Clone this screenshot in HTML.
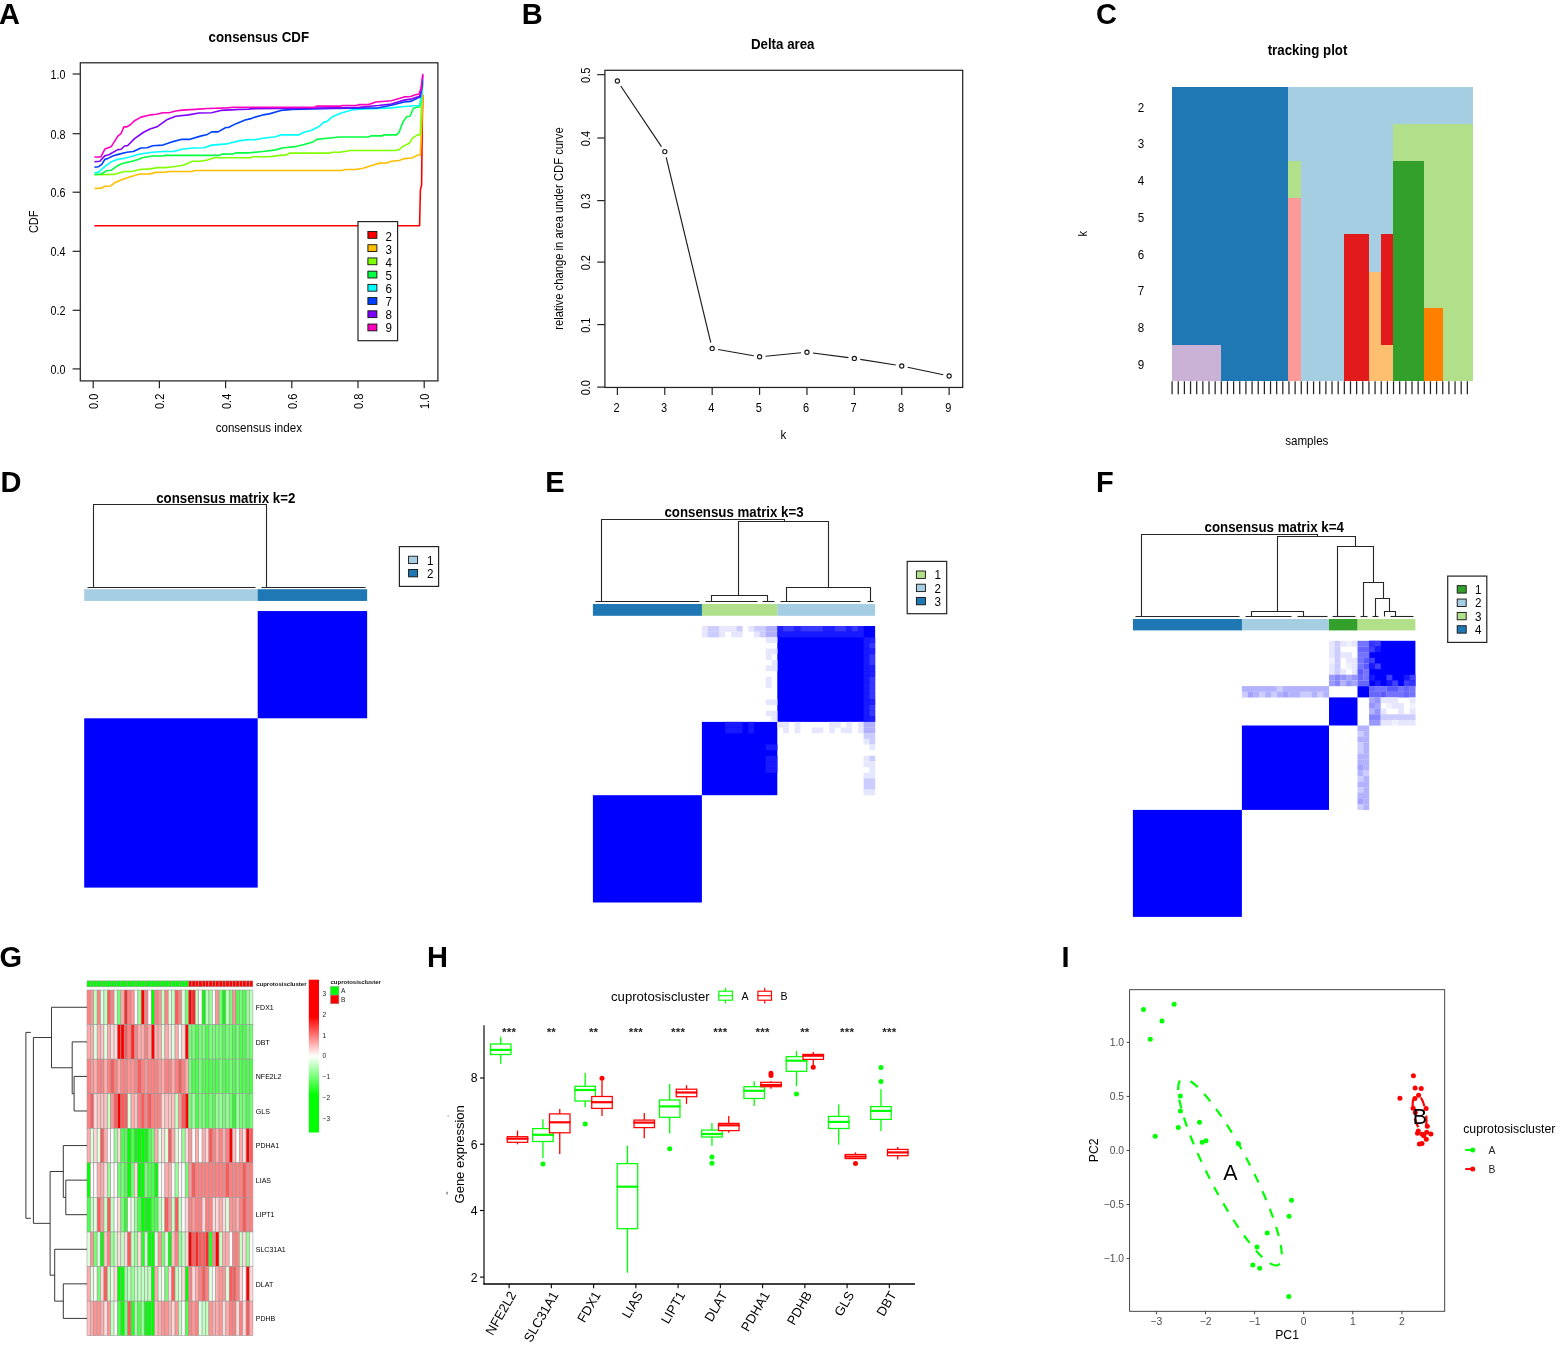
<!DOCTYPE html>
<html lang="en">
<head>
<meta charset="utf-8">
<title>Consensus clustering of cuproptosis genes</title>
<style>
html,body{margin:0;padding:0;background:#fff}
body{width:1558px;height:1346px;overflow:hidden}
svg{display:block;font-family:"Liberation Sans", sans-serif}
text{white-space:pre}
</style>
</head>
<body>
<svg width="1558" height="1346" viewBox="0 0 1558 1346">
<rect width="1558" height="1346" fill="#ffffff"/>
<g id="panel-A">
<text transform="translate(-1 24.4) scale(1 1.04)" font-size="29" font-weight="bold" fill="#000">A</text>
<text transform="translate(258.8 41.6) scale(1 1.08)" font-size="13.3" text-anchor="middle" font-weight="bold" fill="#000">consensus CDF</text>
<polyline points="94.4,225.7 419.6,225.7 420.4,190 421.6,185 422.3,120 422.9,95" fill="none" stroke="#FF0000" stroke-width="1.6" stroke-linejoin="round"/>
<polyline points="94.45,188.43 101.13,188.17 104.99,186.25 110.77,185.99 115.27,182.39 121.7,179.82 129.41,176.99 139.69,174.04 149.97,174.04 155.12,172.37 165.4,172.11 169.25,171.47 192.39,171.47 194.96,170.57 248.95,170.57 250,170.57 342.54,170.57 345.12,169.54 355.4,169.54 363.11,168.25 370.82,165.68 379.82,163.11 387.53,162.85 391.39,161.18 399.1,160.54 404.24,158.61 411.95,157.97 417.1,155.4 420.31,154.76 421.59,127.12 422.88,94.99" fill="none" stroke="#FFBF00" stroke-width="1.6" stroke-linejoin="round"/>
<polyline points="94.45,174.68 113.98,174.42 124.27,171.47 131.98,171.47 139.69,169.54 149.97,168.89 157.69,167.61 165.4,167.61 173.11,166.71 183.39,165.3 192.39,161.18 200.1,161.18 206.53,160.28 214.24,157.71 248.95,157.71 250,157.97 252.57,156.68 269.28,156.68 279.56,155.4 285.99,155.14 289.85,153.08 329.69,153.08 332.26,152.19 339.97,152.19 350.26,150.51 395.24,150.51 399.1,149.61 402.96,146.4 409.38,143.19 412.6,138.05 417.1,135.09 420.31,134.58 421.59,101.41 422.88,82.13" fill="none" stroke="#80FF00" stroke-width="1.6" stroke-linejoin="round"/>
<polyline points="94.45,174.42 101.13,174.04 106.27,170.82 111.41,170.18 116.56,166.32 121.7,163.75 126.84,162.47 134.55,160.8 142.26,157.71 152.54,156.04 162.83,156.04 165.4,155.4 219.38,155.4 221.95,154.11 233.52,153.86 236.09,152.83 248.95,152.83 250,152.7 262.85,151.54 275.71,149.87 282.13,147.94 294.99,146.66 303.98,144.47 312.98,141.9 316.84,139.33 329.69,138.05 339.97,137.02 368.25,137.02 370.82,135.86 382.39,135.86 383.68,134.83 396.53,134.83 399.1,132.26 402.96,121.98 406.81,116.58 410.03,116.2 413.24,108.48 419.67,106.56 421.59,94.99 422.88,80.85" fill="none" stroke="#00FF40" stroke-width="1.6" stroke-linejoin="round"/>
<polyline points="94.45,172.75 98.56,172.11 104.99,166.32 111.41,161.83 117.84,159.25 124.27,158.35 130.69,156.68 137.12,154.76 143.55,153.47 152.54,152.19 162.83,151.54 173.11,151.54 183.39,148.97 193.68,147.94 203.96,147.69 211.67,145.12 227.1,143.83 239.95,140.62 248.95,139.59 250,139.72 256.43,139.59 262.85,138.3 275.71,136.76 280.85,134.83 298.84,134.83 303.98,132.26 311.7,130.33 319.41,126.22 323.26,122.62 327.12,121.34 332.26,116.84 341.26,112.98 352.83,109.77 365.68,108.87 378.53,108.48 391.39,107.84 404.24,106.56 419.67,105.53 421.59,94.99 422.88,79.56" fill="none" stroke="#00FFFF" stroke-width="1.6" stroke-linejoin="round"/>
<polyline points="94.45,167.22 98.56,166.71 101.77,164.4 104.99,159.25 107.56,158.61 112.7,156.04 119.13,154.11 126.84,152.19 133.26,151.54 140.98,147.94 147.4,147.69 152.54,145.76 162.83,145.12 171.83,141.9 182.11,139.33 189.82,139.33 201.39,135.86 206.53,134.83 211.67,131.88 218.1,131.88 225.81,127.51 228.38,127.51 236.09,123.65 245.09,120.05 248.95,119.15 250,118.89 253.86,117.48 262.85,114.91 269.28,113.88 280.85,110.41 292.42,109.38 333.55,108.48 378.53,107.84 391.39,105.27 404.24,102.06 410.67,101.41 417.1,98.2 420.31,96.92 422.24,82.13" fill="none" stroke="#0040FF" stroke-width="1.6" stroke-linejoin="round"/>
<polyline points="94.45,161.83 99.85,161.18 104.99,155.66 108.84,154.76 117.84,149.61 121.05,149.23 124.91,145.76 127.48,145.76 134.55,138.69 143.55,132.26 149.97,129.05 157.69,126.48 166.68,119.79 175.68,116.2 188.53,114.91 198.82,112.98 211.67,112.72 220.67,110.41 239.95,109.38 248.95,109.13 250,108.87 333.55,107.84 359.25,107.2 378.53,105.53 391.39,103.98 404.24,100.13 411.95,98.84 419.67,96.27 421.59,88.56 422.88,75.71" fill="none" stroke="#8000FF" stroke-width="1.6" stroke-linejoin="round"/>
<polyline points="94.45,156.94 100.87,156.94 104.99,148.97 111.41,146.4 117.84,136.12 121.05,133.55 123.88,126.86 126.84,126.86 130.69,124.55 134.55,120.69 140.98,117.1 149.97,114.91 156.4,114.27 162.83,112.72 169.25,112.72 175.68,111.05 182.11,110.15 194.96,109.38 207.81,108.48 227.1,107.84 233.52,107.2 248.95,107.2 250,107.2 314.27,107.2 316.84,106.17 339.97,106.17 342.54,105.53 356.68,105.53 359.25,104.63 368.25,104.63 375.96,102.06 391.39,100.77 404.24,96.92 410.67,96.53 414.52,94.99 419.02,94.09 420.95,88.56 422.88,73.78" fill="none" stroke="#FF00BF" stroke-width="1.6" stroke-linejoin="round"/>
<rect x="80.3" y="62.8" width="357.6" height="318.1" fill="none" stroke="#242424" stroke-width="1.25"/>
<line x1="72.6" y1="368.9" x2="80.3" y2="368.9" stroke="#242424" stroke-width="1.2"/>
<text transform="translate(65.5 373.8) scale(0.93 1.06)" font-size="11.6" text-anchor="end">0.0</text>
<line x1="93.2" y1="380.9" x2="93.2" y2="388.2" stroke="#242424" stroke-width="1.2"/>
<text transform="translate(98.2 393.7) rotate(-90) scale(0.95 1.04)" font-size="11.6" text-anchor="end">0.0</text>
<line x1="72.6" y1="310.3" x2="80.3" y2="310.3" stroke="#242424" stroke-width="1.2"/>
<text transform="translate(65.5 315.2) scale(0.93 1.06)" font-size="11.6" text-anchor="end">0.2</text>
<line x1="159.4" y1="380.9" x2="159.4" y2="388.2" stroke="#242424" stroke-width="1.2"/>
<text transform="translate(164.4 393.7) rotate(-90) scale(0.95 1.04)" font-size="11.6" text-anchor="end">0.2</text>
<line x1="72.6" y1="251.3" x2="80.3" y2="251.3" stroke="#242424" stroke-width="1.2"/>
<text transform="translate(65.5 256.2) scale(0.93 1.06)" font-size="11.6" text-anchor="end">0.4</text>
<line x1="225.6" y1="380.9" x2="225.6" y2="388.2" stroke="#242424" stroke-width="1.2"/>
<text transform="translate(230.6 393.7) rotate(-90) scale(0.95 1.04)" font-size="11.6" text-anchor="end">0.4</text>
<line x1="72.6" y1="192.2" x2="80.3" y2="192.2" stroke="#242424" stroke-width="1.2"/>
<text transform="translate(65.5 197.1) scale(0.93 1.06)" font-size="11.6" text-anchor="end">0.6</text>
<line x1="291.8" y1="380.9" x2="291.8" y2="388.2" stroke="#242424" stroke-width="1.2"/>
<text transform="translate(296.8 393.7) rotate(-90) scale(0.95 1.04)" font-size="11.6" text-anchor="end">0.6</text>
<line x1="72.6" y1="133.7" x2="80.3" y2="133.7" stroke="#242424" stroke-width="1.2"/>
<text transform="translate(65.5 138.6) scale(0.93 1.06)" font-size="11.6" text-anchor="end">0.8</text>
<line x1="358" y1="380.9" x2="358" y2="388.2" stroke="#242424" stroke-width="1.2"/>
<text transform="translate(363 393.7) rotate(-90) scale(0.95 1.04)" font-size="11.6" text-anchor="end">0.8</text>
<line x1="72.6" y1="74" x2="80.3" y2="74" stroke="#242424" stroke-width="1.2"/>
<text transform="translate(65.5 78.9) scale(0.93 1.06)" font-size="11.6" text-anchor="end">1.0</text>
<line x1="424.2" y1="380.9" x2="424.2" y2="388.2" stroke="#242424" stroke-width="1.2"/>
<text transform="translate(429.2 393.7) rotate(-90) scale(0.95 1.04)" font-size="11.6" text-anchor="end">1.0</text>
<text transform="translate(258.8 432.3) scale(1 1.06)" font-size="11.6" text-anchor="middle">consensus index</text>
<text transform="translate(38.2 221.8) rotate(-90) scale(0.95 1.04)" font-size="11.6" text-anchor="middle">CDF</text>
<rect x="358" y="221.6" width="39.6" height="119.1" fill="#fff" stroke="#242424" stroke-width="1.2"/>
<rect x="367.9" y="231.5" width="9" height="6.8" fill="#FF0000" stroke="#111" stroke-width="0.9"/>
<text transform="translate(385.6 240.8) scale(1 1.06)" font-size="11.6">2</text>
<rect x="367.9" y="244.72" width="9" height="6.8" fill="#FFBF00" stroke="#111" stroke-width="0.9"/>
<text transform="translate(385.6 253.83) scale(1 1.06)" font-size="11.6">3</text>
<rect x="367.9" y="257.94" width="9" height="6.8" fill="#80FF00" stroke="#111" stroke-width="0.9"/>
<text transform="translate(385.6 266.86) scale(1 1.06)" font-size="11.6">4</text>
<rect x="367.9" y="271.16" width="9" height="6.8" fill="#00FF40" stroke="#111" stroke-width="0.9"/>
<text transform="translate(385.6 279.89) scale(1 1.06)" font-size="11.6">5</text>
<rect x="367.9" y="284.38" width="9" height="6.8" fill="#00FFFF" stroke="#111" stroke-width="0.9"/>
<text transform="translate(385.6 292.92) scale(1 1.06)" font-size="11.6">6</text>
<rect x="367.9" y="297.6" width="9" height="6.8" fill="#0040FF" stroke="#111" stroke-width="0.9"/>
<text transform="translate(385.6 305.95) scale(1 1.06)" font-size="11.6">7</text>
<rect x="367.9" y="310.82" width="9" height="6.8" fill="#8000FF" stroke="#111" stroke-width="0.9"/>
<text transform="translate(385.6 318.98) scale(1 1.06)" font-size="11.6">8</text>
<rect x="367.9" y="324.04" width="9" height="6.8" fill="#FF00BF" stroke="#111" stroke-width="0.9"/>
<text transform="translate(385.6 332.01) scale(1 1.06)" font-size="11.6">9</text>
</g>
<g id="panel-B">
<text transform="translate(521.7 24.4) scale(1 1.04)" font-size="29" font-weight="bold" fill="#000">B</text>
<text transform="translate(782.7 49.3) scale(1 1.08)" font-size="13.3" text-anchor="middle" font-weight="bold" fill="#000">Delta area</text>
<rect x="604.9" y="70.3" width="357.8" height="317.15" fill="none" stroke="#242424" stroke-width="1.25"/>
<line x1="597.2" y1="387.1" x2="604.9" y2="387.1" stroke="#242424" stroke-width="1.2"/>
<text transform="translate(589.6 387.7) rotate(-90) scale(0.95 1.04)" font-size="11.6" text-anchor="middle">0.0</text>
<line x1="597.2" y1="324.6" x2="604.9" y2="324.6" stroke="#242424" stroke-width="1.2"/>
<text transform="translate(589.6 325.2) rotate(-90) scale(0.95 1.04)" font-size="11.6" text-anchor="middle">0.1</text>
<line x1="597.2" y1="262.1" x2="604.9" y2="262.1" stroke="#242424" stroke-width="1.2"/>
<text transform="translate(589.6 262.7) rotate(-90) scale(0.95 1.04)" font-size="11.6" text-anchor="middle">0.2</text>
<line x1="597.2" y1="200.6" x2="604.9" y2="200.6" stroke="#242424" stroke-width="1.2"/>
<text transform="translate(589.6 201.2) rotate(-90) scale(0.95 1.04)" font-size="11.6" text-anchor="middle">0.3</text>
<line x1="597.2" y1="138" x2="604.9" y2="138" stroke="#242424" stroke-width="1.2"/>
<text transform="translate(589.6 138.6) rotate(-90) scale(0.95 1.04)" font-size="11.6" text-anchor="middle">0.4</text>
<line x1="597.2" y1="74.65" x2="604.9" y2="74.65" stroke="#242424" stroke-width="1.2"/>
<text transform="translate(589.6 75.25) rotate(-90) scale(0.95 1.04)" font-size="11.6" text-anchor="middle">0.5</text>
<line x1="617.4" y1="387.45" x2="617.4" y2="394.9" stroke="#242424" stroke-width="1.2"/>
<text transform="translate(616.6 412.3) scale(0.95 1.06)" font-size="11.6" text-anchor="middle">2</text>
<line x1="664.79" y1="387.45" x2="664.79" y2="394.9" stroke="#242424" stroke-width="1.2"/>
<text transform="translate(663.99 412.3) scale(0.95 1.06)" font-size="11.6" text-anchor="middle">3</text>
<line x1="712.18" y1="387.45" x2="712.18" y2="394.9" stroke="#242424" stroke-width="1.2"/>
<text transform="translate(711.38 412.3) scale(0.95 1.06)" font-size="11.6" text-anchor="middle">4</text>
<line x1="759.57" y1="387.45" x2="759.57" y2="394.9" stroke="#242424" stroke-width="1.2"/>
<text transform="translate(758.77 412.3) scale(0.95 1.06)" font-size="11.6" text-anchor="middle">5</text>
<line x1="806.96" y1="387.45" x2="806.96" y2="394.9" stroke="#242424" stroke-width="1.2"/>
<text transform="translate(806.16 412.3) scale(0.95 1.06)" font-size="11.6" text-anchor="middle">6</text>
<line x1="854.35" y1="387.45" x2="854.35" y2="394.9" stroke="#242424" stroke-width="1.2"/>
<text transform="translate(853.55 412.3) scale(0.95 1.06)" font-size="11.6" text-anchor="middle">7</text>
<line x1="901.74" y1="387.45" x2="901.74" y2="394.9" stroke="#242424" stroke-width="1.2"/>
<text transform="translate(900.94 412.3) scale(0.95 1.06)" font-size="11.6" text-anchor="middle">8</text>
<line x1="949.13" y1="387.45" x2="949.13" y2="394.9" stroke="#242424" stroke-width="1.2"/>
<text transform="translate(948.33 412.3) scale(0.95 1.06)" font-size="11.6" text-anchor="middle">9</text>
<text transform="translate(783.3 438.8) scale(1 1.06)" font-size="11.6" text-anchor="middle">k</text>
<text transform="translate(562.9 228.6) rotate(-90) scale(0.97 1.04)" font-size="11.6" text-anchor="middle">relative change in area under CDF curve</text>
<line x1="620.74" y1="85.98" x2="661.45" y2="146.62" stroke="#1a1a1a" stroke-width="1.15"/>
<line x1="666.19" y1="157.43" x2="710.78" y2="342.57" stroke="#1a1a1a" stroke-width="1.15"/>
<line x1="718.09" y1="349.45" x2="753.66" y2="355.75" stroke="#1a1a1a" stroke-width="1.15"/>
<line x1="765.54" y1="356.22" x2="800.99" y2="352.78" stroke="#1a1a1a" stroke-width="1.15"/>
<line x1="812.91" y1="352.98" x2="848.4" y2="357.62" stroke="#1a1a1a" stroke-width="1.15"/>
<line x1="860.27" y1="359.35" x2="895.82" y2="365.05" stroke="#1a1a1a" stroke-width="1.15"/>
<line x1="907.61" y1="367.24" x2="943.26" y2="374.76" stroke="#1a1a1a" stroke-width="1.15"/>
<circle cx="617.4" cy="81" r="2.1" fill="#fff" stroke="#1a1a1a" stroke-width="1.15"/>
<circle cx="664.79" cy="151.6" r="2.1" fill="#fff" stroke="#1a1a1a" stroke-width="1.15"/>
<circle cx="712.18" cy="348.4" r="2.1" fill="#fff" stroke="#1a1a1a" stroke-width="1.15"/>
<circle cx="759.57" cy="356.8" r="2.1" fill="#fff" stroke="#1a1a1a" stroke-width="1.15"/>
<circle cx="806.96" cy="352.2" r="2.1" fill="#fff" stroke="#1a1a1a" stroke-width="1.15"/>
<circle cx="854.35" cy="358.4" r="2.1" fill="#fff" stroke="#1a1a1a" stroke-width="1.15"/>
<circle cx="901.74" cy="366" r="2.1" fill="#fff" stroke="#1a1a1a" stroke-width="1.15"/>
<circle cx="949.13" cy="376" r="2.1" fill="#fff" stroke="#1a1a1a" stroke-width="1.15"/>
</g>
<g id="panel-C">
<text transform="translate(1096 24.4) scale(1 1.04)" font-size="29" font-weight="bold" fill="#000">C</text>
<text transform="translate(1307.5 54.7) scale(1 1.08)" font-size="13.3" text-anchor="middle" font-weight="bold" fill="#000">tracking plot</text>
<rect x="1171.7" y="86.9" width="116.7" height="294.4" fill="#1F78B4" shape-rendering="crispEdges"/>
<rect x="1288.1" y="86.9" width="185.3" height="294.4" fill="#A6CEE3" shape-rendering="crispEdges"/>
<rect x="1393.14" y="124.1" width="80.26" height="257.2" fill="#B2DF8A" shape-rendering="crispEdges"/>
<rect x="1288.1" y="160.8" width="13.07" height="37" fill="#B2DF8A" shape-rendering="crispEdges"/>
<rect x="1288.1" y="197.5" width="13.07" height="183.8" fill="#FB9A99" shape-rendering="crispEdges"/>
<rect x="1393.14" y="160.8" width="31.06" height="220.5" fill="#33A02C" shape-rendering="crispEdges"/>
<rect x="1343.93" y="234" width="24.9" height="147.3" fill="#E31A1C" shape-rendering="crispEdges"/>
<rect x="1380.83" y="234" width="12.6" height="111" fill="#E31A1C" shape-rendering="crispEdges"/>
<rect x="1368.53" y="271.5" width="12.6" height="109.8" fill="#FDBF6F" shape-rendering="crispEdges"/>
<rect x="1380.83" y="344.7" width="12.6" height="36.6" fill="#FDBF6F" shape-rendering="crispEdges"/>
<rect x="1423.89" y="308.1" width="18.75" height="73.2" fill="#FF7F00" shape-rendering="crispEdges"/>
<rect x="1171.7" y="344.7" width="49.51" height="36.6" fill="#CAB2D6" shape-rendering="crispEdges"/>
<line x1="1172.1" y1="381.3" x2="1172.1" y2="394.2" stroke="#242424" stroke-width="1.25"/>
<line x1="1178.25" y1="381.3" x2="1178.25" y2="394.2" stroke="#242424" stroke-width="1.25"/>
<line x1="1184.4" y1="381.3" x2="1184.4" y2="394.2" stroke="#242424" stroke-width="1.25"/>
<line x1="1190.55" y1="381.3" x2="1190.55" y2="394.2" stroke="#242424" stroke-width="1.25"/>
<line x1="1196.7" y1="381.3" x2="1196.7" y2="394.2" stroke="#242424" stroke-width="1.25"/>
<line x1="1202.86" y1="381.3" x2="1202.86" y2="394.2" stroke="#242424" stroke-width="1.25"/>
<line x1="1209.01" y1="381.3" x2="1209.01" y2="394.2" stroke="#242424" stroke-width="1.25"/>
<line x1="1215.16" y1="381.3" x2="1215.16" y2="394.2" stroke="#242424" stroke-width="1.25"/>
<line x1="1221.31" y1="381.3" x2="1221.31" y2="394.2" stroke="#242424" stroke-width="1.25"/>
<line x1="1227.46" y1="381.3" x2="1227.46" y2="394.2" stroke="#242424" stroke-width="1.25"/>
<line x1="1233.61" y1="381.3" x2="1233.61" y2="394.2" stroke="#242424" stroke-width="1.25"/>
<line x1="1239.76" y1="381.3" x2="1239.76" y2="394.2" stroke="#242424" stroke-width="1.25"/>
<line x1="1245.91" y1="381.3" x2="1245.91" y2="394.2" stroke="#242424" stroke-width="1.25"/>
<line x1="1252.06" y1="381.3" x2="1252.06" y2="394.2" stroke="#242424" stroke-width="1.25"/>
<line x1="1258.21" y1="381.3" x2="1258.21" y2="394.2" stroke="#242424" stroke-width="1.25"/>
<line x1="1264.37" y1="381.3" x2="1264.37" y2="394.2" stroke="#242424" stroke-width="1.25"/>
<line x1="1270.52" y1="381.3" x2="1270.52" y2="394.2" stroke="#242424" stroke-width="1.25"/>
<line x1="1276.67" y1="381.3" x2="1276.67" y2="394.2" stroke="#242424" stroke-width="1.25"/>
<line x1="1282.82" y1="381.3" x2="1282.82" y2="394.2" stroke="#242424" stroke-width="1.25"/>
<line x1="1288.97" y1="381.3" x2="1288.97" y2="394.2" stroke="#242424" stroke-width="1.25"/>
<line x1="1295.12" y1="381.3" x2="1295.12" y2="394.2" stroke="#242424" stroke-width="1.25"/>
<line x1="1301.27" y1="381.3" x2="1301.27" y2="394.2" stroke="#242424" stroke-width="1.25"/>
<line x1="1307.42" y1="381.3" x2="1307.42" y2="394.2" stroke="#242424" stroke-width="1.25"/>
<line x1="1313.57" y1="381.3" x2="1313.57" y2="394.2" stroke="#242424" stroke-width="1.25"/>
<line x1="1319.72" y1="381.3" x2="1319.72" y2="394.2" stroke="#242424" stroke-width="1.25"/>
<line x1="1325.88" y1="381.3" x2="1325.88" y2="394.2" stroke="#242424" stroke-width="1.25"/>
<line x1="1332.03" y1="381.3" x2="1332.03" y2="394.2" stroke="#242424" stroke-width="1.25"/>
<line x1="1338.18" y1="381.3" x2="1338.18" y2="394.2" stroke="#242424" stroke-width="1.25"/>
<line x1="1344.33" y1="381.3" x2="1344.33" y2="394.2" stroke="#242424" stroke-width="1.25"/>
<line x1="1350.48" y1="381.3" x2="1350.48" y2="394.2" stroke="#242424" stroke-width="1.25"/>
<line x1="1356.63" y1="381.3" x2="1356.63" y2="394.2" stroke="#242424" stroke-width="1.25"/>
<line x1="1362.78" y1="381.3" x2="1362.78" y2="394.2" stroke="#242424" stroke-width="1.25"/>
<line x1="1368.93" y1="381.3" x2="1368.93" y2="394.2" stroke="#242424" stroke-width="1.25"/>
<line x1="1375.08" y1="381.3" x2="1375.08" y2="394.2" stroke="#242424" stroke-width="1.25"/>
<line x1="1381.23" y1="381.3" x2="1381.23" y2="394.2" stroke="#242424" stroke-width="1.25"/>
<line x1="1387.39" y1="381.3" x2="1387.39" y2="394.2" stroke="#242424" stroke-width="1.25"/>
<line x1="1393.54" y1="381.3" x2="1393.54" y2="394.2" stroke="#242424" stroke-width="1.25"/>
<line x1="1399.69" y1="381.3" x2="1399.69" y2="394.2" stroke="#242424" stroke-width="1.25"/>
<line x1="1405.84" y1="381.3" x2="1405.84" y2="394.2" stroke="#242424" stroke-width="1.25"/>
<line x1="1411.99" y1="381.3" x2="1411.99" y2="394.2" stroke="#242424" stroke-width="1.25"/>
<line x1="1418.14" y1="381.3" x2="1418.14" y2="394.2" stroke="#242424" stroke-width="1.25"/>
<line x1="1424.29" y1="381.3" x2="1424.29" y2="394.2" stroke="#242424" stroke-width="1.25"/>
<line x1="1430.44" y1="381.3" x2="1430.44" y2="394.2" stroke="#242424" stroke-width="1.25"/>
<line x1="1436.59" y1="381.3" x2="1436.59" y2="394.2" stroke="#242424" stroke-width="1.25"/>
<line x1="1442.74" y1="381.3" x2="1442.74" y2="394.2" stroke="#242424" stroke-width="1.25"/>
<line x1="1448.9" y1="381.3" x2="1448.9" y2="394.2" stroke="#242424" stroke-width="1.25"/>
<line x1="1455.05" y1="381.3" x2="1455.05" y2="394.2" stroke="#242424" stroke-width="1.25"/>
<line x1="1461.2" y1="381.3" x2="1461.2" y2="394.2" stroke="#242424" stroke-width="1.25"/>
<line x1="1467.35" y1="381.3" x2="1467.35" y2="394.2" stroke="#242424" stroke-width="1.25"/>
<text transform="translate(1140.9 111.5) scale(1 1.06)" font-size="11.6" text-anchor="middle">2</text>
<text transform="translate(1140.9 148.25) scale(1 1.06)" font-size="11.6" text-anchor="middle">3</text>
<text transform="translate(1140.9 185) scale(1 1.06)" font-size="11.6" text-anchor="middle">4</text>
<text transform="translate(1140.9 221.75) scale(1 1.06)" font-size="11.6" text-anchor="middle">5</text>
<text transform="translate(1140.9 258.5) scale(1 1.06)" font-size="11.6" text-anchor="middle">6</text>
<text transform="translate(1140.9 295.25) scale(1 1.06)" font-size="11.6" text-anchor="middle">7</text>
<text transform="translate(1140.9 332) scale(1 1.06)" font-size="11.6" text-anchor="middle">8</text>
<text transform="translate(1140.9 368.75) scale(1 1.06)" font-size="11.6" text-anchor="middle">9</text>
<text transform="translate(1086.6 233.7) rotate(-90) scale(0.95 1.04)" font-size="11.6" text-anchor="middle">k</text>
<text transform="translate(1306.8 444.5) scale(1 1.06)" font-size="11.6" text-anchor="middle">samples</text>
</g>
<g id="panel-D">
<text transform="translate(0.5 491.8) scale(1 1.04)" font-size="29" font-weight="bold" fill="#000">D</text>
<text transform="translate(225.8 502.8) scale(1 1.08)" font-size="13.3" text-anchor="middle" font-weight="bold" fill="#000">consensus matrix k=2</text>
<g>
<rect x="84.2" y="718.3" width="173.5" height="169.3" fill="#0000FF"/>
<rect x="257.7" y="611.05" width="109.45" height="107.25" fill="#0000FF"/>
</g>
<rect x="84.2" y="589.2" width="173.65" height="11.75" fill="#A6CEE3"/>
<rect x="257.7" y="589.2" width="109.45" height="11.75" fill="#1F78B4"/>
<polyline points="93.5,587.5 93.5,504.5 266.5,504.5 266.5,587.5" fill="none" stroke="#262626" stroke-width="1.1"/>
<polyline points="87.5,587.5 255.5,587.5" fill="none" stroke="#262626" stroke-width="1.1"/>
<polyline points="261.5,587.5 365.5,587.5" fill="none" stroke="#262626" stroke-width="1.1"/>
<rect x="399.4" y="546.6" width="39.2" height="39.8" fill="#fff" stroke="#242424" stroke-width="1.2"/>
<rect x="408.6" y="556.2" width="9" height="7.4" fill="#A6CEE3" stroke="#111" stroke-width="0.9"/>
<text transform="translate(427 564.6) scale(1 1.06)" font-size="11.6">1</text>
<rect x="408.6" y="569.45" width="9" height="7.4" fill="#1F78B4" stroke="#111" stroke-width="0.9"/>
<text transform="translate(427 577.85) scale(1 1.06)" font-size="11.6">2</text>
</g>
<g id="panel-E">
<text transform="translate(545.2 491.8) scale(1 1.04)" font-size="29" font-weight="bold" fill="#000">E</text>
<text transform="translate(734 517.3) scale(1 1.08)" font-size="13.3" text-anchor="middle" font-weight="bold" fill="#000">consensus matrix k=3</text>
<g>
<rect x="592.9" y="795.2" width="109" height="107.3" fill="#0000FF"/>
<rect x="701.9" y="721.9" width="75.4" height="73.3" fill="#0000FF"/>
<rect x="777.3" y="626" width="97.8" height="95.9" fill="#0000FF"/>
<rect x="701.9" y="626" width="5.92" height="5.76" fill="#E6E6FF"/>
<rect x="707.7" y="626" width="11.72" height="5.76" fill="#CCCCFF"/>
<rect x="719.3" y="626" width="17.52" height="5.76" fill="#E6E6FF"/>
<rect x="736.7" y="626" width="5.92" height="5.76" fill="#CCCCFF"/>
<rect x="748.3" y="626" width="5.92" height="5.76" fill="#E6E6FF"/>
<rect x="754.1" y="626" width="11.72" height="5.76" fill="#CCCCFF"/>
<rect x="765.7" y="626" width="11.72" height="5.76" fill="#B0B0FF"/>
<rect x="777.3" y="626" width="5.87" height="5.76" fill="#1F1FFF"/>
<rect x="783.05" y="626" width="11.63" height="5.76" fill="#3838FF"/>
<rect x="794.56" y="626" width="5.87" height="5.76" fill="#1F1FFF"/>
<rect x="800.31" y="626" width="23.13" height="5.76" fill="#3838FF"/>
<rect x="823.32" y="626" width="11.63" height="5.76" fill="#1F1FFF"/>
<rect x="834.83" y="626" width="11.63" height="5.76" fill="#3838FF"/>
<rect x="846.34" y="626" width="5.87" height="5.76" fill="#1F1FFF"/>
<rect x="852.09" y="626" width="5.87" height="5.76" fill="#3838FF"/>
<rect x="857.84" y="626" width="5.87" height="5.76" fill="#1F1FFF"/>
<rect x="701.9" y="631.64" width="5.92" height="5.76" fill="#E6E6FF"/>
<rect x="707.7" y="631.64" width="11.72" height="5.76" fill="#CCCCFF"/>
<rect x="719.3" y="631.64" width="5.92" height="5.76" fill="#E6E6FF"/>
<rect x="730.9" y="631.64" width="11.72" height="5.76" fill="#E6E6FF"/>
<rect x="754.1" y="631.64" width="5.92" height="5.76" fill="#E6E6FF"/>
<rect x="759.9" y="631.64" width="5.92" height="5.76" fill="#CCCCFF"/>
<rect x="765.7" y="631.64" width="11.72" height="5.76" fill="#B0B0FF"/>
<rect x="777.3" y="631.64" width="86.41" height="5.76" fill="#1919FF"/>
<rect x="765.7" y="637.28" width="11.72" height="5.76" fill="#E6E6FF"/>
<rect x="863.59" y="637.28" width="5.87" height="5.76" fill="#1919FF"/>
<rect x="869.35" y="637.28" width="5.87" height="5.76" fill="#1F1FFF"/>
<rect x="863.59" y="642.92" width="5.87" height="5.76" fill="#1919FF"/>
<rect x="869.35" y="642.92" width="5.87" height="5.76" fill="#3838FF"/>
<rect x="765.7" y="648.56" width="11.72" height="5.76" fill="#E6E6FF"/>
<rect x="863.59" y="648.56" width="5.87" height="5.76" fill="#1919FF"/>
<rect x="869.35" y="648.56" width="5.87" height="5.76" fill="#1F1FFF"/>
<rect x="765.7" y="654.21" width="5.92" height="5.76" fill="#E6E6FF"/>
<rect x="863.59" y="654.21" width="5.87" height="5.76" fill="#1919FF"/>
<rect x="869.35" y="654.21" width="5.87" height="5.76" fill="#3838FF"/>
<rect x="771.5" y="659.85" width="5.92" height="5.76" fill="#E6E6FF"/>
<rect x="863.59" y="659.85" width="5.87" height="5.76" fill="#1919FF"/>
<rect x="869.35" y="659.85" width="5.87" height="5.76" fill="#3838FF"/>
<rect x="765.7" y="665.49" width="11.72" height="5.76" fill="#E6E6FF"/>
<rect x="863.59" y="665.49" width="5.87" height="5.76" fill="#1919FF"/>
<rect x="869.35" y="665.49" width="5.87" height="5.76" fill="#1F1FFF"/>
<rect x="863.59" y="671.13" width="5.87" height="5.76" fill="#1919FF"/>
<rect x="869.35" y="671.13" width="5.87" height="5.76" fill="#1F1FFF"/>
<rect x="765.7" y="676.77" width="5.92" height="5.76" fill="#E6E6FF"/>
<rect x="863.59" y="676.77" width="5.87" height="5.76" fill="#1919FF"/>
<rect x="869.35" y="676.77" width="5.87" height="5.76" fill="#3838FF"/>
<rect x="765.7" y="682.41" width="5.92" height="5.76" fill="#E6E6FF"/>
<rect x="863.59" y="682.41" width="5.87" height="5.76" fill="#1919FF"/>
<rect x="869.35" y="682.41" width="5.87" height="5.76" fill="#3838FF"/>
<rect x="863.59" y="688.05" width="5.87" height="5.76" fill="#1919FF"/>
<rect x="869.35" y="688.05" width="5.87" height="5.76" fill="#3838FF"/>
<rect x="863.59" y="693.69" width="5.87" height="5.76" fill="#1919FF"/>
<rect x="869.35" y="693.69" width="5.87" height="5.76" fill="#3838FF"/>
<rect x="765.7" y="699.34" width="11.72" height="5.76" fill="#E6E6FF"/>
<rect x="863.59" y="699.34" width="5.87" height="5.76" fill="#1919FF"/>
<rect x="869.35" y="699.34" width="5.87" height="5.76" fill="#1F1FFF"/>
<rect x="863.59" y="704.98" width="5.87" height="5.76" fill="#1919FF"/>
<rect x="869.35" y="704.98" width="5.87" height="5.76" fill="#3838FF"/>
<rect x="765.7" y="710.62" width="11.72" height="5.76" fill="#E6E6FF"/>
<rect x="863.59" y="710.62" width="5.87" height="5.76" fill="#1919FF"/>
<rect x="869.35" y="710.62" width="5.87" height="5.76" fill="#3838FF"/>
<rect x="771.5" y="716.26" width="5.92" height="5.76" fill="#E6E6FF"/>
<rect x="863.59" y="716.26" width="5.87" height="5.76" fill="#1919FF"/>
<rect x="869.35" y="716.26" width="5.87" height="5.76" fill="#1F1FFF"/>
<rect x="725.1" y="721.9" width="17.52" height="5.76" fill="#1919FF"/>
<rect x="748.3" y="721.9" width="5.92" height="5.76" fill="#1919FF"/>
<rect x="777.3" y="721.9" width="11.63" height="5.76" fill="#E6E6FF"/>
<rect x="794.56" y="721.9" width="5.87" height="5.76" fill="#E6E6FF"/>
<rect x="829.08" y="721.9" width="11.63" height="5.76" fill="#E6E6FF"/>
<rect x="846.34" y="721.9" width="5.87" height="5.76" fill="#E6E6FF"/>
<rect x="857.84" y="721.9" width="5.87" height="5.76" fill="#E6E6FF"/>
<rect x="863.59" y="721.9" width="11.63" height="5.76" fill="#B0B0FF"/>
<rect x="725.1" y="727.54" width="17.52" height="5.76" fill="#1919FF"/>
<rect x="748.3" y="727.54" width="5.92" height="5.76" fill="#1919FF"/>
<rect x="783.05" y="727.54" width="5.87" height="5.76" fill="#E6E6FF"/>
<rect x="794.56" y="727.54" width="5.87" height="5.76" fill="#E6E6FF"/>
<rect x="811.82" y="727.54" width="11.63" height="5.76" fill="#E6E6FF"/>
<rect x="829.08" y="727.54" width="5.87" height="5.76" fill="#E6E6FF"/>
<rect x="840.58" y="727.54" width="11.63" height="5.76" fill="#E6E6FF"/>
<rect x="857.84" y="727.54" width="5.87" height="5.76" fill="#E6E6FF"/>
<rect x="863.59" y="727.54" width="11.63" height="5.76" fill="#B0B0FF"/>
<rect x="863.59" y="733.18" width="11.63" height="5.76" fill="#CCCCFF"/>
<rect x="863.59" y="738.82" width="5.87" height="5.76" fill="#E6E6FF"/>
<rect x="869.35" y="738.82" width="5.87" height="5.76" fill="#CCCCFF"/>
<rect x="765.7" y="744.45" width="11.72" height="5.76" fill="#1919FF"/>
<rect x="869.35" y="744.45" width="5.87" height="5.76" fill="#E6E6FF"/>
<rect x="765.7" y="755.73" width="11.72" height="5.76" fill="#1919FF"/>
<rect x="863.59" y="755.73" width="5.87" height="5.76" fill="#E6E6FF"/>
<rect x="869.35" y="755.73" width="5.87" height="5.76" fill="#CCCCFF"/>
<rect x="765.7" y="761.37" width="11.72" height="5.76" fill="#1919FF"/>
<rect x="863.59" y="761.37" width="11.63" height="5.76" fill="#E6E6FF"/>
<rect x="765.7" y="767.01" width="11.72" height="5.76" fill="#1919FF"/>
<rect x="869.35" y="767.01" width="5.87" height="5.76" fill="#E6E6FF"/>
<rect x="863.59" y="772.65" width="11.63" height="5.76" fill="#E6E6FF"/>
<rect x="863.59" y="778.28" width="11.63" height="5.76" fill="#CCCCFF"/>
<rect x="863.59" y="783.92" width="11.63" height="5.76" fill="#CCCCFF"/>
<rect x="863.59" y="789.56" width="11.63" height="5.76" fill="#E6E6FF"/>
</g>
<rect x="592.9" y="604" width="109.15" height="11.8" fill="#1F78B4"/>
<rect x="701.9" y="604" width="75.55" height="11.8" fill="#B2DF8A"/>
<rect x="777.3" y="604" width="97.8" height="11.8" fill="#A6CEE3"/>
<polyline points="601.5,601.5 601.5,519.5 784.5,519.5 784.5,521.5" fill="none" stroke="#262626" stroke-width="1.1"/>
<polyline points="738.5,595.5 738.5,521.5 828.5,521.5 828.5,587.5" fill="none" stroke="#262626" stroke-width="1.1"/>
<polyline points="711.5,601.5 711.5,595.5 767.5,595.5 767.5,601.5" fill="none" stroke="#262626" stroke-width="1.1"/>
<polyline points="786.5,601.5 786.5,587.5 870.5,587.5 870.5,601.5" fill="none" stroke="#262626" stroke-width="1.1"/>
<polyline points="595.5,601.5 699.5,601.5" fill="none" stroke="#262626" stroke-width="1.1"/>
<polyline points="705.5,601.5 757.5,601.5" fill="none" stroke="#262626" stroke-width="1.1"/>
<polyline points="762.5,601.5 774.5,601.5" fill="none" stroke="#262626" stroke-width="1.1"/>
<polyline points="780.5,601.5 860.5,601.5" fill="none" stroke="#262626" stroke-width="1.1"/>
<polyline points="867.5,601.5 873.5,601.5" fill="none" stroke="#262626" stroke-width="1.1"/>
<rect x="907.2" y="561.4" width="39.5" height="52.3" fill="#fff" stroke="#242424" stroke-width="1.2"/>
<rect x="916.4" y="571" width="9" height="7.4" fill="#B2DF8A" stroke="#111" stroke-width="0.9"/>
<text transform="translate(934.4 579.4) scale(1 1.06)" font-size="11.6">1</text>
<rect x="916.4" y="584.2" width="9" height="7.4" fill="#A6CEE3" stroke="#111" stroke-width="0.9"/>
<text transform="translate(934.4 592.6) scale(1 1.06)" font-size="11.6">2</text>
<rect x="916.4" y="597.4" width="9" height="7.4" fill="#1F78B4" stroke="#111" stroke-width="0.9"/>
<text transform="translate(934.4 605.8) scale(1 1.06)" font-size="11.6">3</text>
</g>
<g id="panel-F">
<text transform="translate(1096 491.8) scale(1 1.04)" font-size="29" font-weight="bold" fill="#000">F</text>
<text transform="translate(1274.2 532.1) scale(1 1.08)" font-size="13.3" text-anchor="middle" font-weight="bold" fill="#000">consensus matrix k=4</text>
<g>
<rect x="1132.9" y="809.9" width="109" height="107" fill="#0000FF"/>
<rect x="1241.9" y="725.5" width="87.1" height="84.4" fill="#0000FF"/>
<rect x="1329" y="697.4" width="28.5" height="28.1" fill="#0000FF"/>
<rect x="1357.5" y="686.08" width="11.58" height="11.32" fill="#0000FF"/>
<rect x="1369.08" y="640.8" width="46.32" height="45.28" fill="#0000FF"/>
<rect x="1329" y="640.8" width="5.82" height="5.78" fill="#E6E6FF"/>
<rect x="1334.7" y="640.8" width="5.82" height="5.78" fill="#CCCCFF"/>
<rect x="1340.4" y="640.8" width="5.82" height="5.78" fill="#E6E6FF"/>
<rect x="1346.1" y="640.8" width="5.82" height="5.78" fill="#F0F0FF"/>
<rect x="1351.8" y="640.8" width="5.82" height="5.78" fill="#E6E6FF"/>
<rect x="1357.5" y="640.8" width="11.7" height="5.78" fill="#7373FF"/>
<rect x="1369.08" y="640.8" width="5.91" height="5.78" fill="#3333FF"/>
<rect x="1374.87" y="640.8" width="5.91" height="5.78" fill="#4040FF"/>
<rect x="1329" y="646.46" width="5.82" height="5.78" fill="#E6E6FF"/>
<rect x="1334.7" y="646.46" width="5.82" height="5.78" fill="#CCCCFF"/>
<rect x="1357.5" y="646.46" width="11.7" height="5.78" fill="#6666FF"/>
<rect x="1369.08" y="646.46" width="5.91" height="5.78" fill="#4040FF"/>
<rect x="1374.87" y="646.46" width="5.91" height="5.78" fill="#1919FF"/>
<rect x="1329" y="652.12" width="5.82" height="5.78" fill="#E6E6FF"/>
<rect x="1334.7" y="652.12" width="5.82" height="5.78" fill="#CCCCFF"/>
<rect x="1340.4" y="652.12" width="11.52" height="5.78" fill="#E6E6FF"/>
<rect x="1357.5" y="652.12" width="11.7" height="5.78" fill="#7373FF"/>
<rect x="1329" y="657.78" width="5.82" height="5.78" fill="#F0F0FF"/>
<rect x="1334.7" y="657.78" width="5.82" height="5.78" fill="#CCCCFF"/>
<rect x="1346.1" y="657.78" width="11.52" height="5.78" fill="#E6E6FF"/>
<rect x="1357.5" y="657.78" width="5.91" height="5.78" fill="#7373FF"/>
<rect x="1363.29" y="657.78" width="5.91" height="5.78" fill="#5959FF"/>
<rect x="1369.08" y="657.78" width="5.91" height="5.78" fill="#4040FF"/>
<rect x="1329" y="663.44" width="5.82" height="5.78" fill="#E6E6FF"/>
<rect x="1334.7" y="663.44" width="5.82" height="5.78" fill="#CCCCFF"/>
<rect x="1346.1" y="663.44" width="5.82" height="5.78" fill="#F0F0FF"/>
<rect x="1351.8" y="663.44" width="5.82" height="5.78" fill="#E6E6FF"/>
<rect x="1357.5" y="663.44" width="5.91" height="5.78" fill="#7373FF"/>
<rect x="1363.29" y="663.44" width="5.91" height="5.78" fill="#5959FF"/>
<rect x="1369.08" y="663.44" width="5.91" height="5.78" fill="#1919FF"/>
<rect x="1374.87" y="663.44" width="5.91" height="5.78" fill="#4040FF"/>
<rect x="1329" y="669.1" width="5.82" height="5.78" fill="#E6E6FF"/>
<rect x="1334.7" y="669.1" width="5.82" height="5.78" fill="#CCCCFF"/>
<rect x="1340.4" y="669.1" width="5.82" height="5.78" fill="#E6E6FF"/>
<rect x="1351.8" y="669.1" width="5.82" height="5.78" fill="#E6E6FF"/>
<rect x="1357.5" y="669.1" width="5.91" height="5.78" fill="#5959FF"/>
<rect x="1363.29" y="669.1" width="5.91" height="5.78" fill="#7373FF"/>
<rect x="1329" y="674.76" width="5.82" height="5.78" fill="#9999FF"/>
<rect x="1334.7" y="674.76" width="5.82" height="5.78" fill="#8585FF"/>
<rect x="1340.4" y="674.76" width="5.82" height="5.78" fill="#9494FF"/>
<rect x="1346.1" y="674.76" width="5.82" height="5.78" fill="#A6A6FF"/>
<rect x="1351.8" y="674.76" width="5.82" height="5.78" fill="#9494FF"/>
<rect x="1357.5" y="674.76" width="5.91" height="5.78" fill="#6666FF"/>
<rect x="1363.29" y="674.76" width="5.91" height="5.78" fill="#7373FF"/>
<rect x="1369.08" y="674.76" width="5.91" height="5.78" fill="#1919FF"/>
<rect x="1386.45" y="674.76" width="5.91" height="5.78" fill="#4040FF"/>
<rect x="1403.82" y="674.76" width="5.91" height="5.78" fill="#1919FF"/>
<rect x="1409.61" y="674.76" width="5.91" height="5.78" fill="#4040FF"/>
<rect x="1329" y="680.42" width="5.82" height="5.78" fill="#9999FF"/>
<rect x="1334.7" y="680.42" width="5.82" height="5.78" fill="#8585FF"/>
<rect x="1340.4" y="680.42" width="5.82" height="5.78" fill="#B2B2FF"/>
<rect x="1346.1" y="680.42" width="5.82" height="5.78" fill="#9494FF"/>
<rect x="1351.8" y="680.42" width="5.82" height="5.78" fill="#A6A6FF"/>
<rect x="1357.5" y="680.42" width="11.7" height="5.78" fill="#6666FF"/>
<rect x="1374.87" y="680.42" width="5.91" height="5.78" fill="#1919FF"/>
<rect x="1386.45" y="680.42" width="5.91" height="5.78" fill="#1919FF"/>
<rect x="1392.24" y="680.42" width="5.91" height="5.78" fill="#4040FF"/>
<rect x="1403.82" y="680.42" width="5.91" height="5.78" fill="#4040FF"/>
<rect x="1409.61" y="680.42" width="5.91" height="5.78" fill="#3333FF"/>
<rect x="1241.9" y="686.08" width="34.96" height="5.78" fill="#B2B2FF"/>
<rect x="1276.74" y="686.08" width="5.93" height="5.78" fill="#CCCCFF"/>
<rect x="1282.55" y="686.08" width="46.57" height="5.78" fill="#B2B2FF"/>
<rect x="1369.08" y="686.08" width="5.91" height="5.78" fill="#6666FF"/>
<rect x="1374.87" y="686.08" width="11.7" height="5.78" fill="#7373FF"/>
<rect x="1386.45" y="686.08" width="11.7" height="5.78" fill="#5959FF"/>
<rect x="1398.03" y="686.08" width="5.91" height="5.78" fill="#7373FF"/>
<rect x="1403.82" y="686.08" width="5.91" height="5.78" fill="#6666FF"/>
<rect x="1409.61" y="686.08" width="5.91" height="5.78" fill="#7373FF"/>
<rect x="1241.9" y="691.74" width="5.93" height="5.78" fill="#CCCCFF"/>
<rect x="1247.71" y="691.74" width="5.93" height="5.78" fill="#A3A3FF"/>
<rect x="1253.51" y="691.74" width="5.93" height="5.78" fill="#B2B2FF"/>
<rect x="1259.32" y="691.74" width="5.93" height="5.78" fill="#CCCCFF"/>
<rect x="1265.13" y="691.74" width="5.93" height="5.78" fill="#B2B2FF"/>
<rect x="1270.93" y="691.74" width="5.93" height="5.78" fill="#CCCCFF"/>
<rect x="1276.74" y="691.74" width="5.93" height="5.78" fill="#B2B2FF"/>
<rect x="1282.55" y="691.74" width="5.93" height="5.78" fill="#A3A3FF"/>
<rect x="1288.35" y="691.74" width="11.73" height="5.78" fill="#B2B2FF"/>
<rect x="1299.97" y="691.74" width="11.73" height="5.78" fill="#CCCCFF"/>
<rect x="1311.58" y="691.74" width="5.93" height="5.78" fill="#B2B2FF"/>
<rect x="1317.39" y="691.74" width="5.93" height="5.78" fill="#CCCCFF"/>
<rect x="1323.19" y="691.74" width="5.93" height="5.78" fill="#B2B2FF"/>
<rect x="1369.08" y="691.74" width="11.7" height="5.78" fill="#6666FF"/>
<rect x="1380.66" y="691.74" width="5.91" height="5.78" fill="#5959FF"/>
<rect x="1386.45" y="691.74" width="17.49" height="5.78" fill="#7373FF"/>
<rect x="1403.82" y="691.74" width="5.91" height="5.78" fill="#6666FF"/>
<rect x="1409.61" y="691.74" width="5.91" height="5.78" fill="#7373FF"/>
<rect x="1369.08" y="697.4" width="5.91" height="5.74" fill="#A6A6FF"/>
<rect x="1374.87" y="697.4" width="5.91" height="5.74" fill="#9494FF"/>
<rect x="1380.66" y="697.4" width="17.49" height="5.74" fill="#E6E6FF"/>
<rect x="1409.61" y="697.4" width="5.91" height="5.74" fill="#E6E6FF"/>
<rect x="1369.08" y="703.02" width="5.91" height="5.74" fill="#9494FF"/>
<rect x="1374.87" y="703.02" width="5.91" height="5.74" fill="#A6A6FF"/>
<rect x="1386.45" y="703.02" width="5.91" height="5.74" fill="#F0F0FF"/>
<rect x="1392.24" y="703.02" width="11.7" height="5.74" fill="#E6E6FF"/>
<rect x="1409.61" y="703.02" width="5.91" height="5.74" fill="#F0F0FF"/>
<rect x="1369.08" y="708.64" width="5.91" height="5.74" fill="#B2B2FF"/>
<rect x="1374.87" y="708.64" width="5.91" height="5.74" fill="#9494FF"/>
<rect x="1380.66" y="708.64" width="5.91" height="5.74" fill="#E6E6FF"/>
<rect x="1398.03" y="708.64" width="5.91" height="5.74" fill="#E6E6FF"/>
<rect x="1409.61" y="708.64" width="5.91" height="5.74" fill="#E6E6FF"/>
<rect x="1369.08" y="714.26" width="11.7" height="5.74" fill="#8585FF"/>
<rect x="1380.66" y="714.26" width="34.86" height="5.74" fill="#CCCCFF"/>
<rect x="1369.08" y="719.88" width="11.7" height="5.74" fill="#9999FF"/>
<rect x="1380.66" y="719.88" width="11.7" height="5.74" fill="#E6E6FF"/>
<rect x="1392.24" y="719.88" width="5.91" height="5.74" fill="#F0F0FF"/>
<rect x="1398.03" y="719.88" width="17.49" height="5.74" fill="#E6E6FF"/>
<rect x="1357.5" y="725.5" width="11.7" height="5.75" fill="#B2B2FF"/>
<rect x="1357.5" y="731.13" width="5.91" height="5.75" fill="#CCCCFF"/>
<rect x="1363.29" y="731.13" width="5.91" height="5.75" fill="#B2B2FF"/>
<rect x="1357.5" y="736.75" width="11.7" height="5.75" fill="#B2B2FF"/>
<rect x="1357.5" y="742.38" width="5.91" height="5.75" fill="#CCCCFF"/>
<rect x="1363.29" y="742.38" width="5.91" height="5.75" fill="#B2B2FF"/>
<rect x="1357.5" y="748.01" width="5.91" height="5.75" fill="#CCCCFF"/>
<rect x="1363.29" y="748.01" width="5.91" height="5.75" fill="#B2B2FF"/>
<rect x="1357.5" y="753.63" width="11.7" height="5.75" fill="#B2B2FF"/>
<rect x="1357.5" y="759.26" width="11.7" height="5.75" fill="#B2B2FF"/>
<rect x="1357.5" y="764.89" width="5.91" height="5.75" fill="#A3A3FF"/>
<rect x="1363.29" y="764.89" width="5.91" height="5.75" fill="#B2B2FF"/>
<rect x="1357.5" y="770.51" width="5.91" height="5.75" fill="#B2B2FF"/>
<rect x="1363.29" y="770.51" width="5.91" height="5.75" fill="#CCCCFF"/>
<rect x="1357.5" y="776.14" width="5.91" height="5.75" fill="#CCCCFF"/>
<rect x="1363.29" y="776.14" width="5.91" height="5.75" fill="#B2B2FF"/>
<rect x="1357.5" y="781.77" width="11.7" height="5.75" fill="#B2B2FF"/>
<rect x="1357.5" y="787.39" width="5.91" height="5.75" fill="#CCCCFF"/>
<rect x="1363.29" y="787.39" width="5.91" height="5.75" fill="#B2B2FF"/>
<rect x="1357.5" y="793.02" width="11.7" height="5.75" fill="#B2B2FF"/>
<rect x="1357.5" y="798.65" width="5.91" height="5.75" fill="#A3A3FF"/>
<rect x="1363.29" y="798.65" width="5.91" height="5.75" fill="#B2B2FF"/>
<rect x="1357.5" y="804.27" width="5.91" height="5.75" fill="#CCCCFF"/>
<rect x="1363.29" y="804.27" width="5.91" height="5.75" fill="#B2B2FF"/>
</g>
<rect x="1132.9" y="619" width="109.15" height="11.4" fill="#1F78B4"/>
<rect x="1241.9" y="619" width="87.25" height="11.4" fill="#A6CEE3"/>
<rect x="1329" y="619" width="28.65" height="11.4" fill="#33A02C"/>
<rect x="1357.5" y="619" width="57.9" height="11.4" fill="#B2DF8A"/>
<polyline points="1141.5,616.5 1141.5,534.5 1317.5,534.5 1317.5,536.5" fill="none" stroke="#262626" stroke-width="1.1"/>
<polyline points="1277.5,611.5 1277.5,536.5 1355.5,536.5 1355.5,546.5" fill="none" stroke="#262626" stroke-width="1.1"/>
<polyline points="1251.5,616.5 1251.5,611.5 1303.5,611.5 1303.5,616.5" fill="none" stroke="#262626" stroke-width="1.1"/>
<polyline points="1337.5,616.5 1337.5,546.5 1373.5,546.5 1373.5,582.5" fill="none" stroke="#262626" stroke-width="1.1"/>
<polyline points="1363.5,616.5 1363.5,582.5 1383.5,582.5 1383.5,598.5" fill="none" stroke="#262626" stroke-width="1.1"/>
<polyline points="1375.5,616.5 1375.5,598.5 1389.5,598.5 1389.5,611.5" fill="none" stroke="#262626" stroke-width="1.1"/>
<polyline points="1384.5,616.5 1384.5,611.5 1395.5,611.5 1395.5,616.5" fill="none" stroke="#262626" stroke-width="1.1"/>
<polyline points="1135.5,616.5 1239.5,616.5" fill="none" stroke="#262626" stroke-width="1.1"/>
<polyline points="1245.5,616.5 1291.5,616.5" fill="none" stroke="#262626" stroke-width="1.1"/>
<polyline points="1297.5,616.5 1327.5,616.5" fill="none" stroke="#262626" stroke-width="1.1"/>
<polyline points="1332.5,616.5 1355.5,616.5" fill="none" stroke="#262626" stroke-width="1.1"/>
<polyline points="1360.5,616.5 1367.5,616.5" fill="none" stroke="#262626" stroke-width="1.1"/>
<polyline points="1372.5,616.5 1378.5,616.5" fill="none" stroke="#262626" stroke-width="1.1"/>
<polyline points="1390.5,616.5 1413.5,616.5" fill="none" stroke="#262626" stroke-width="1.1"/>
<rect x="1447.7" y="576.1" width="39.1" height="66.3" fill="#fff" stroke="#242424" stroke-width="1.2"/>
<rect x="1457.2" y="585.7" width="9" height="7.4" fill="#33A02C" stroke="#111" stroke-width="0.9"/>
<text transform="translate(1474.9 594.1) scale(1 1.06)" font-size="11.6">1</text>
<rect x="1457.2" y="599.05" width="9" height="7.4" fill="#A6CEE3" stroke="#111" stroke-width="0.9"/>
<text transform="translate(1474.9 607.45) scale(1 1.06)" font-size="11.6">2</text>
<rect x="1457.2" y="612.4" width="9" height="7.4" fill="#B2DF8A" stroke="#111" stroke-width="0.9"/>
<text transform="translate(1474.9 620.8) scale(1 1.06)" font-size="11.6">3</text>
<rect x="1457.2" y="625.75" width="9" height="7.4" fill="#1F78B4" stroke="#111" stroke-width="0.9"/>
<text transform="translate(1474.9 634.15) scale(1 1.06)" font-size="11.6">4</text>
</g>
<g id="panel-G">
<text transform="translate(-0.5 967.3) scale(1 1.04)" font-size="29" font-weight="bold" fill="#000">G</text>
<g stroke="#999999" stroke-width="0.55">
<rect x="87" y="980.9" width="3.39" height="5.9" fill="#00FF00"/>
<rect x="90.39" y="980.9" width="3.39" height="5.9" fill="#00FF00"/>
<rect x="93.77" y="980.9" width="3.39" height="5.9" fill="#00FF00"/>
<rect x="97.16" y="980.9" width="3.39" height="5.9" fill="#00FF00"/>
<rect x="100.54" y="980.9" width="3.39" height="5.9" fill="#00FF00"/>
<rect x="103.93" y="980.9" width="3.39" height="5.9" fill="#00FF00"/>
<rect x="107.31" y="980.9" width="3.39" height="5.9" fill="#00FF00"/>
<rect x="110.7" y="980.9" width="3.39" height="5.9" fill="#00FF00"/>
<rect x="114.09" y="980.9" width="3.39" height="5.9" fill="#00FF00"/>
<rect x="117.47" y="980.9" width="3.39" height="5.9" fill="#00FF00"/>
<rect x="120.86" y="980.9" width="3.39" height="5.9" fill="#00FF00"/>
<rect x="124.24" y="980.9" width="3.39" height="5.9" fill="#00FF00"/>
<rect x="127.63" y="980.9" width="3.39" height="5.9" fill="#00FF00"/>
<rect x="131.01" y="980.9" width="3.39" height="5.9" fill="#00FF00"/>
<rect x="134.4" y="980.9" width="3.39" height="5.9" fill="#00FF00"/>
<rect x="137.79" y="980.9" width="3.39" height="5.9" fill="#00FF00"/>
<rect x="141.17" y="980.9" width="3.39" height="5.9" fill="#00FF00"/>
<rect x="144.56" y="980.9" width="3.39" height="5.9" fill="#00FF00"/>
<rect x="147.94" y="980.9" width="3.39" height="5.9" fill="#00FF00"/>
<rect x="151.33" y="980.9" width="3.39" height="5.9" fill="#00FF00"/>
<rect x="154.71" y="980.9" width="3.39" height="5.9" fill="#00FF00"/>
<rect x="158.1" y="980.9" width="3.39" height="5.9" fill="#00FF00"/>
<rect x="161.49" y="980.9" width="3.39" height="5.9" fill="#00FF00"/>
<rect x="164.87" y="980.9" width="3.39" height="5.9" fill="#00FF00"/>
<rect x="168.26" y="980.9" width="3.39" height="5.9" fill="#00FF00"/>
<rect x="171.64" y="980.9" width="3.39" height="5.9" fill="#00FF00"/>
<rect x="175.03" y="980.9" width="3.39" height="5.9" fill="#00FF00"/>
<rect x="178.41" y="980.9" width="3.39" height="5.9" fill="#00FF00"/>
<rect x="181.8" y="980.9" width="3.39" height="5.9" fill="#00FF00"/>
<rect x="185.19" y="980.9" width="3.39" height="5.9" fill="#00FF00"/>
<rect x="188.57" y="980.9" width="3.39" height="5.9" fill="#FF0000"/>
<rect x="191.96" y="980.9" width="3.39" height="5.9" fill="#FF0000"/>
<rect x="195.34" y="980.9" width="3.39" height="5.9" fill="#FF0000"/>
<rect x="198.73" y="980.9" width="3.39" height="5.9" fill="#FF0000"/>
<rect x="202.11" y="980.9" width="3.39" height="5.9" fill="#FF0000"/>
<rect x="205.5" y="980.9" width="3.39" height="5.9" fill="#FF0000"/>
<rect x="208.89" y="980.9" width="3.39" height="5.9" fill="#FF0000"/>
<rect x="212.27" y="980.9" width="3.39" height="5.9" fill="#FF0000"/>
<rect x="215.66" y="980.9" width="3.39" height="5.9" fill="#FF0000"/>
<rect x="219.04" y="980.9" width="3.39" height="5.9" fill="#FF0000"/>
<rect x="222.43" y="980.9" width="3.39" height="5.9" fill="#FF0000"/>
<rect x="225.81" y="980.9" width="3.39" height="5.9" fill="#FF0000"/>
<rect x="229.2" y="980.9" width="3.39" height="5.9" fill="#FF0000"/>
<rect x="232.59" y="980.9" width="3.39" height="5.9" fill="#FF0000"/>
<rect x="235.97" y="980.9" width="3.39" height="5.9" fill="#FF0000"/>
<rect x="239.36" y="980.9" width="3.39" height="5.9" fill="#FF0000"/>
<rect x="242.74" y="980.9" width="3.39" height="5.9" fill="#FF0000"/>
<rect x="246.13" y="980.9" width="3.39" height="5.9" fill="#FF0000"/>
<rect x="249.51" y="980.9" width="3.39" height="5.9" fill="#FF0000"/>
<rect x="87" y="990" width="3.39" height="34.57" fill="#FF8080"/>
<rect x="90.39" y="990" width="3.39" height="34.57" fill="#FF9494"/>
<rect x="93.77" y="990" width="3.39" height="34.57" fill="#BFFFBF"/>
<rect x="97.16" y="990" width="3.39" height="34.57" fill="#FF8080"/>
<rect x="100.54" y="990" width="3.39" height="34.57" fill="#DEFFDE"/>
<rect x="103.93" y="990" width="3.39" height="34.57" fill="#BFFFBF"/>
<rect x="107.31" y="990" width="3.39" height="34.57" fill="#FF5959"/>
<rect x="110.7" y="990" width="3.39" height="34.57" fill="#FF8080"/>
<rect x="114.09" y="990" width="3.39" height="34.57" fill="#DEFFDE"/>
<rect x="117.47" y="990" width="3.39" height="34.57" fill="#73FF73"/>
<rect x="120.86" y="990" width="3.39" height="34.57" fill="#FFABAB"/>
<rect x="124.24" y="990" width="3.39" height="34.57" fill="#FF2626"/>
<rect x="127.63" y="990" width="3.39" height="34.57" fill="#FF8080"/>
<rect x="131.01" y="990" width="3.39" height="34.57" fill="#FF9494"/>
<rect x="134.4" y="990" width="3.39" height="34.57" fill="#FFFAFA"/>
<rect x="137.79" y="990" width="3.39" height="34.57" fill="#94FF94"/>
<rect x="141.17" y="990" width="3.39" height="34.57" fill="#FF0000"/>
<rect x="144.56" y="990" width="3.39" height="34.57" fill="#FF8080"/>
<rect x="147.94" y="990" width="3.39" height="34.57" fill="#FFFAFA"/>
<rect x="151.33" y="990" width="3.39" height="34.57" fill="#00FF00"/>
<rect x="154.71" y="990" width="3.39" height="34.57" fill="#FF8080"/>
<rect x="158.1" y="990" width="3.39" height="34.57" fill="#FF9494"/>
<rect x="161.49" y="990" width="3.39" height="34.57" fill="#BFFFBF"/>
<rect x="164.87" y="990" width="3.39" height="34.57" fill="#FF8080"/>
<rect x="168.26" y="990" width="3.39" height="34.57" fill="#DEFFDE"/>
<rect x="171.64" y="990" width="3.39" height="34.57" fill="#BFFFBF"/>
<rect x="175.03" y="990" width="3.39" height="34.57" fill="#FF5959"/>
<rect x="178.41" y="990" width="3.39" height="34.57" fill="#FF8080"/>
<rect x="181.8" y="990" width="3.39" height="34.57" fill="#DEFFDE"/>
<rect x="185.19" y="990" width="3.39" height="34.57" fill="#73FF73"/>
<rect x="188.57" y="990" width="3.39" height="34.57" fill="#FF0000"/>
<rect x="191.96" y="990" width="3.39" height="34.57" fill="#FF2626"/>
<rect x="195.34" y="990" width="3.39" height="34.57" fill="#BFFFBF"/>
<rect x="198.73" y="990" width="3.39" height="34.57" fill="#FFFAFA"/>
<rect x="202.11" y="990" width="3.39" height="34.57" fill="#00FF00"/>
<rect x="205.5" y="990" width="3.39" height="34.57" fill="#BFFFBF"/>
<rect x="208.89" y="990" width="3.39" height="34.57" fill="#94FF94"/>
<rect x="212.27" y="990" width="3.39" height="34.57" fill="#FFFAFA"/>
<rect x="215.66" y="990" width="3.39" height="34.57" fill="#FF9494"/>
<rect x="219.04" y="990" width="3.39" height="34.57" fill="#73FF73"/>
<rect x="222.43" y="990" width="3.39" height="34.57" fill="#00FF00"/>
<rect x="225.81" y="990" width="3.39" height="34.57" fill="#BFFFBF"/>
<rect x="229.2" y="990" width="3.39" height="34.57" fill="#73FF73"/>
<rect x="232.59" y="990" width="3.39" height="34.57" fill="#FF9494"/>
<rect x="235.97" y="990" width="3.39" height="34.57" fill="#4DFF4D"/>
<rect x="239.36" y="990" width="3.39" height="34.57" fill="#73FF73"/>
<rect x="242.74" y="990" width="3.39" height="34.57" fill="#4DFF4D"/>
<rect x="246.13" y="990" width="3.39" height="34.57" fill="#94FF94"/>
<rect x="249.51" y="990" width="3.39" height="34.57" fill="#BFFFBF"/>
<rect x="87" y="1024.57" width="3.39" height="34.57" fill="#FFABAB"/>
<rect x="90.39" y="1024.57" width="3.39" height="34.57" fill="#FFABAB"/>
<rect x="93.77" y="1024.57" width="3.39" height="34.57" fill="#DEFFDE"/>
<rect x="97.16" y="1024.57" width="3.39" height="34.57" fill="#FFABAB"/>
<rect x="100.54" y="1024.57" width="3.39" height="34.57" fill="#FFBFBF"/>
<rect x="103.93" y="1024.57" width="3.39" height="34.57" fill="#DEFFDE"/>
<rect x="107.31" y="1024.57" width="3.39" height="34.57" fill="#FFABAB"/>
<rect x="110.7" y="1024.57" width="3.39" height="34.57" fill="#FFD9D9"/>
<rect x="114.09" y="1024.57" width="3.39" height="34.57" fill="#FFD9D9"/>
<rect x="117.47" y="1024.57" width="3.39" height="34.57" fill="#FF0000"/>
<rect x="120.86" y="1024.57" width="3.39" height="34.57" fill="#FF0000"/>
<rect x="124.24" y="1024.57" width="3.39" height="34.57" fill="#FF5959"/>
<rect x="127.63" y="1024.57" width="3.39" height="34.57" fill="#FF8080"/>
<rect x="131.01" y="1024.57" width="3.39" height="34.57" fill="#FF2626"/>
<rect x="134.4" y="1024.57" width="3.39" height="34.57" fill="#FF8080"/>
<rect x="137.79" y="1024.57" width="3.39" height="34.57" fill="#FFABAB"/>
<rect x="141.17" y="1024.57" width="3.39" height="34.57" fill="#FFABAB"/>
<rect x="144.56" y="1024.57" width="3.39" height="34.57" fill="#FF8080"/>
<rect x="147.94" y="1024.57" width="3.39" height="34.57" fill="#FFABAB"/>
<rect x="151.33" y="1024.57" width="3.39" height="34.57" fill="#FF0000"/>
<rect x="154.71" y="1024.57" width="3.39" height="34.57" fill="#FFABAB"/>
<rect x="158.1" y="1024.57" width="3.39" height="34.57" fill="#FFABAB"/>
<rect x="161.49" y="1024.57" width="3.39" height="34.57" fill="#DEFFDE"/>
<rect x="164.87" y="1024.57" width="3.39" height="34.57" fill="#FFABAB"/>
<rect x="168.26" y="1024.57" width="3.39" height="34.57" fill="#FFD9D9"/>
<rect x="171.64" y="1024.57" width="3.39" height="34.57" fill="#DEFFDE"/>
<rect x="175.03" y="1024.57" width="3.39" height="34.57" fill="#FFABAB"/>
<rect x="178.41" y="1024.57" width="3.39" height="34.57" fill="#FFFAFA"/>
<rect x="181.8" y="1024.57" width="3.39" height="34.57" fill="#FFD9D9"/>
<rect x="185.19" y="1024.57" width="3.39" height="34.57" fill="#FF0000"/>
<rect x="188.57" y="1024.57" width="3.39" height="34.57" fill="#73FF73"/>
<rect x="191.96" y="1024.57" width="3.39" height="34.57" fill="#73FF73"/>
<rect x="195.34" y="1024.57" width="3.39" height="34.57" fill="#4DFF4D"/>
<rect x="198.73" y="1024.57" width="3.39" height="34.57" fill="#73FF73"/>
<rect x="202.11" y="1024.57" width="3.39" height="34.57" fill="#73FF73"/>
<rect x="205.5" y="1024.57" width="3.39" height="34.57" fill="#4DFF4D"/>
<rect x="208.89" y="1024.57" width="3.39" height="34.57" fill="#73FF73"/>
<rect x="212.27" y="1024.57" width="3.39" height="34.57" fill="#73FF73"/>
<rect x="215.66" y="1024.57" width="3.39" height="34.57" fill="#73FF73"/>
<rect x="219.04" y="1024.57" width="3.39" height="34.57" fill="#73FF73"/>
<rect x="222.43" y="1024.57" width="3.39" height="34.57" fill="#4DFF4D"/>
<rect x="225.81" y="1024.57" width="3.39" height="34.57" fill="#73FF73"/>
<rect x="229.2" y="1024.57" width="3.39" height="34.57" fill="#73FF73"/>
<rect x="232.59" y="1024.57" width="3.39" height="34.57" fill="#4DFF4D"/>
<rect x="235.97" y="1024.57" width="3.39" height="34.57" fill="#73FF73"/>
<rect x="239.36" y="1024.57" width="3.39" height="34.57" fill="#4DFF4D"/>
<rect x="242.74" y="1024.57" width="3.39" height="34.57" fill="#4DFF4D"/>
<rect x="246.13" y="1024.57" width="3.39" height="34.57" fill="#73FF73"/>
<rect x="249.51" y="1024.57" width="3.39" height="34.57" fill="#73FF73"/>
<rect x="87" y="1059.14" width="3.39" height="34.57" fill="#FF8080"/>
<rect x="90.39" y="1059.14" width="3.39" height="34.57" fill="#FF9494"/>
<rect x="93.77" y="1059.14" width="3.39" height="34.57" fill="#FFABAB"/>
<rect x="97.16" y="1059.14" width="3.39" height="34.57" fill="#FF8080"/>
<rect x="100.54" y="1059.14" width="3.39" height="34.57" fill="#FF8080"/>
<rect x="103.93" y="1059.14" width="3.39" height="34.57" fill="#FFABAB"/>
<rect x="107.31" y="1059.14" width="3.39" height="34.57" fill="#FF8080"/>
<rect x="110.7" y="1059.14" width="3.39" height="34.57" fill="#FF5959"/>
<rect x="114.09" y="1059.14" width="3.39" height="34.57" fill="#FF8080"/>
<rect x="117.47" y="1059.14" width="3.39" height="34.57" fill="#FFABAB"/>
<rect x="120.86" y="1059.14" width="3.39" height="34.57" fill="#FF8080"/>
<rect x="124.24" y="1059.14" width="3.39" height="34.57" fill="#FF8080"/>
<rect x="127.63" y="1059.14" width="3.39" height="34.57" fill="#FF9494"/>
<rect x="131.01" y="1059.14" width="3.39" height="34.57" fill="#FF9494"/>
<rect x="134.4" y="1059.14" width="3.39" height="34.57" fill="#FF8080"/>
<rect x="137.79" y="1059.14" width="3.39" height="34.57" fill="#FF5959"/>
<rect x="141.17" y="1059.14" width="3.39" height="34.57" fill="#FF8080"/>
<rect x="144.56" y="1059.14" width="3.39" height="34.57" fill="#FF9494"/>
<rect x="147.94" y="1059.14" width="3.39" height="34.57" fill="#FF8080"/>
<rect x="151.33" y="1059.14" width="3.39" height="34.57" fill="#FF8080"/>
<rect x="154.71" y="1059.14" width="3.39" height="34.57" fill="#FF8080"/>
<rect x="158.1" y="1059.14" width="3.39" height="34.57" fill="#FF9494"/>
<rect x="161.49" y="1059.14" width="3.39" height="34.57" fill="#FFABAB"/>
<rect x="164.87" y="1059.14" width="3.39" height="34.57" fill="#FF8080"/>
<rect x="168.26" y="1059.14" width="3.39" height="34.57" fill="#FF8080"/>
<rect x="171.64" y="1059.14" width="3.39" height="34.57" fill="#FFABAB"/>
<rect x="175.03" y="1059.14" width="3.39" height="34.57" fill="#FF8080"/>
<rect x="178.41" y="1059.14" width="3.39" height="34.57" fill="#FF5959"/>
<rect x="181.8" y="1059.14" width="3.39" height="34.57" fill="#FF8080"/>
<rect x="185.19" y="1059.14" width="3.39" height="34.57" fill="#FFABAB"/>
<rect x="188.57" y="1059.14" width="3.39" height="34.57" fill="#73FF73"/>
<rect x="191.96" y="1059.14" width="3.39" height="34.57" fill="#4DFF4D"/>
<rect x="195.34" y="1059.14" width="3.39" height="34.57" fill="#4DFF4D"/>
<rect x="198.73" y="1059.14" width="3.39" height="34.57" fill="#73FF73"/>
<rect x="202.11" y="1059.14" width="3.39" height="34.57" fill="#4DFF4D"/>
<rect x="205.5" y="1059.14" width="3.39" height="34.57" fill="#4DFF4D"/>
<rect x="208.89" y="1059.14" width="3.39" height="34.57" fill="#4DFF4D"/>
<rect x="212.27" y="1059.14" width="3.39" height="34.57" fill="#4DFF4D"/>
<rect x="215.66" y="1059.14" width="3.39" height="34.57" fill="#4DFF4D"/>
<rect x="219.04" y="1059.14" width="3.39" height="34.57" fill="#73FF73"/>
<rect x="222.43" y="1059.14" width="3.39" height="34.57" fill="#4DFF4D"/>
<rect x="225.81" y="1059.14" width="3.39" height="34.57" fill="#4DFF4D"/>
<rect x="229.2" y="1059.14" width="3.39" height="34.57" fill="#73FF73"/>
<rect x="232.59" y="1059.14" width="3.39" height="34.57" fill="#4DFF4D"/>
<rect x="235.97" y="1059.14" width="3.39" height="34.57" fill="#73FF73"/>
<rect x="239.36" y="1059.14" width="3.39" height="34.57" fill="#4DFF4D"/>
<rect x="242.74" y="1059.14" width="3.39" height="34.57" fill="#4DFF4D"/>
<rect x="246.13" y="1059.14" width="3.39" height="34.57" fill="#4DFF4D"/>
<rect x="249.51" y="1059.14" width="3.39" height="34.57" fill="#4DFF4D"/>
<rect x="87" y="1093.71" width="3.39" height="34.57" fill="#FF8080"/>
<rect x="90.39" y="1093.71" width="3.39" height="34.57" fill="#FF5959"/>
<rect x="93.77" y="1093.71" width="3.39" height="34.57" fill="#FFD9D9"/>
<rect x="97.16" y="1093.71" width="3.39" height="34.57" fill="#FFBFBF"/>
<rect x="100.54" y="1093.71" width="3.39" height="34.57" fill="#FFBFBF"/>
<rect x="103.93" y="1093.71" width="3.39" height="34.57" fill="#FFBFBF"/>
<rect x="107.31" y="1093.71" width="3.39" height="34.57" fill="#BFFFBF"/>
<rect x="110.7" y="1093.71" width="3.39" height="34.57" fill="#FF9494"/>
<rect x="114.09" y="1093.71" width="3.39" height="34.57" fill="#FF5959"/>
<rect x="117.47" y="1093.71" width="3.39" height="34.57" fill="#FF0000"/>
<rect x="120.86" y="1093.71" width="3.39" height="34.57" fill="#FF5959"/>
<rect x="124.24" y="1093.71" width="3.39" height="34.57" fill="#FF5959"/>
<rect x="127.63" y="1093.71" width="3.39" height="34.57" fill="#DEFFDE"/>
<rect x="131.01" y="1093.71" width="3.39" height="34.57" fill="#FFABAB"/>
<rect x="134.4" y="1093.71" width="3.39" height="34.57" fill="#FFBFBF"/>
<rect x="137.79" y="1093.71" width="3.39" height="34.57" fill="#FF8080"/>
<rect x="141.17" y="1093.71" width="3.39" height="34.57" fill="#FF5959"/>
<rect x="144.56" y="1093.71" width="3.39" height="34.57" fill="#FF8080"/>
<rect x="147.94" y="1093.71" width="3.39" height="34.57" fill="#FF5959"/>
<rect x="151.33" y="1093.71" width="3.39" height="34.57" fill="#FF8080"/>
<rect x="154.71" y="1093.71" width="3.39" height="34.57" fill="#FF8080"/>
<rect x="158.1" y="1093.71" width="3.39" height="34.57" fill="#FF8080"/>
<rect x="161.49" y="1093.71" width="3.39" height="34.57" fill="#FFD9D9"/>
<rect x="164.87" y="1093.71" width="3.39" height="34.57" fill="#FFBFBF"/>
<rect x="168.26" y="1093.71" width="3.39" height="34.57" fill="#FFBFBF"/>
<rect x="171.64" y="1093.71" width="3.39" height="34.57" fill="#FFBFBF"/>
<rect x="175.03" y="1093.71" width="3.39" height="34.57" fill="#BFFFBF"/>
<rect x="178.41" y="1093.71" width="3.39" height="34.57" fill="#FF9494"/>
<rect x="181.8" y="1093.71" width="3.39" height="34.57" fill="#FF5959"/>
<rect x="185.19" y="1093.71" width="3.39" height="34.57" fill="#FF0000"/>
<rect x="188.57" y="1093.71" width="3.39" height="34.57" fill="#73FF73"/>
<rect x="191.96" y="1093.71" width="3.39" height="34.57" fill="#94FF94"/>
<rect x="195.34" y="1093.71" width="3.39" height="34.57" fill="#4DFF4D"/>
<rect x="198.73" y="1093.71" width="3.39" height="34.57" fill="#73FF73"/>
<rect x="202.11" y="1093.71" width="3.39" height="34.57" fill="#73FF73"/>
<rect x="205.5" y="1093.71" width="3.39" height="34.57" fill="#4DFF4D"/>
<rect x="208.89" y="1093.71" width="3.39" height="34.57" fill="#73FF73"/>
<rect x="212.27" y="1093.71" width="3.39" height="34.57" fill="#4DFF4D"/>
<rect x="215.66" y="1093.71" width="3.39" height="34.57" fill="#94FF94"/>
<rect x="219.04" y="1093.71" width="3.39" height="34.57" fill="#94FF94"/>
<rect x="222.43" y="1093.71" width="3.39" height="34.57" fill="#73FF73"/>
<rect x="225.81" y="1093.71" width="3.39" height="34.57" fill="#94FF94"/>
<rect x="229.2" y="1093.71" width="3.39" height="34.57" fill="#73FF73"/>
<rect x="232.59" y="1093.71" width="3.39" height="34.57" fill="#26FF26"/>
<rect x="235.97" y="1093.71" width="3.39" height="34.57" fill="#94FF94"/>
<rect x="239.36" y="1093.71" width="3.39" height="34.57" fill="#73FF73"/>
<rect x="242.74" y="1093.71" width="3.39" height="34.57" fill="#73FF73"/>
<rect x="246.13" y="1093.71" width="3.39" height="34.57" fill="#4DFF4D"/>
<rect x="249.51" y="1093.71" width="3.39" height="34.57" fill="#73FF73"/>
<rect x="87" y="1128.28" width="3.39" height="34.57" fill="#FFABAB"/>
<rect x="90.39" y="1128.28" width="3.39" height="34.57" fill="#DEFFDE"/>
<rect x="93.77" y="1128.28" width="3.39" height="34.57" fill="#FFD9D9"/>
<rect x="97.16" y="1128.28" width="3.39" height="34.57" fill="#DEFFDE"/>
<rect x="100.54" y="1128.28" width="3.39" height="34.57" fill="#FF5959"/>
<rect x="103.93" y="1128.28" width="3.39" height="34.57" fill="#FFABAB"/>
<rect x="107.31" y="1128.28" width="3.39" height="34.57" fill="#FFFAFA"/>
<rect x="110.7" y="1128.28" width="3.39" height="34.57" fill="#FFFAFA"/>
<rect x="114.09" y="1128.28" width="3.39" height="34.57" fill="#94FF94"/>
<rect x="117.47" y="1128.28" width="3.39" height="34.57" fill="#FFD9D9"/>
<rect x="120.86" y="1128.28" width="3.39" height="34.57" fill="#4DFF4D"/>
<rect x="124.24" y="1128.28" width="3.39" height="34.57" fill="#4DFF4D"/>
<rect x="127.63" y="1128.28" width="3.39" height="34.57" fill="#00FF00"/>
<rect x="131.01" y="1128.28" width="3.39" height="34.57" fill="#4DFF4D"/>
<rect x="134.4" y="1128.28" width="3.39" height="34.57" fill="#00FF00"/>
<rect x="137.79" y="1128.28" width="3.39" height="34.57" fill="#00FF00"/>
<rect x="141.17" y="1128.28" width="3.39" height="34.57" fill="#00FF00"/>
<rect x="144.56" y="1128.28" width="3.39" height="34.57" fill="#00FF00"/>
<rect x="147.94" y="1128.28" width="3.39" height="34.57" fill="#4DFF4D"/>
<rect x="151.33" y="1128.28" width="3.39" height="34.57" fill="#73FF73"/>
<rect x="154.71" y="1128.28" width="3.39" height="34.57" fill="#FFABAB"/>
<rect x="158.1" y="1128.28" width="3.39" height="34.57" fill="#DEFFDE"/>
<rect x="161.49" y="1128.28" width="3.39" height="34.57" fill="#FFD9D9"/>
<rect x="164.87" y="1128.28" width="3.39" height="34.57" fill="#DEFFDE"/>
<rect x="168.26" y="1128.28" width="3.39" height="34.57" fill="#FF5959"/>
<rect x="171.64" y="1128.28" width="3.39" height="34.57" fill="#FFABAB"/>
<rect x="175.03" y="1128.28" width="3.39" height="34.57" fill="#DEFFDE"/>
<rect x="178.41" y="1128.28" width="3.39" height="34.57" fill="#FFFAFA"/>
<rect x="181.8" y="1128.28" width="3.39" height="34.57" fill="#94FF94"/>
<rect x="185.19" y="1128.28" width="3.39" height="34.57" fill="#FFD9D9"/>
<rect x="188.57" y="1128.28" width="3.39" height="34.57" fill="#FF9494"/>
<rect x="191.96" y="1128.28" width="3.39" height="34.57" fill="#FFFAFA"/>
<rect x="195.34" y="1128.28" width="3.39" height="34.57" fill="#FFABAB"/>
<rect x="198.73" y="1128.28" width="3.39" height="34.57" fill="#FFFAFA"/>
<rect x="202.11" y="1128.28" width="3.39" height="34.57" fill="#FFABAB"/>
<rect x="205.5" y="1128.28" width="3.39" height="34.57" fill="#FFD9D9"/>
<rect x="208.89" y="1128.28" width="3.39" height="34.57" fill="#FF5959"/>
<rect x="212.27" y="1128.28" width="3.39" height="34.57" fill="#FF8080"/>
<rect x="215.66" y="1128.28" width="3.39" height="34.57" fill="#FFABAB"/>
<rect x="219.04" y="1128.28" width="3.39" height="34.57" fill="#FF8080"/>
<rect x="222.43" y="1128.28" width="3.39" height="34.57" fill="#FFABAB"/>
<rect x="225.81" y="1128.28" width="3.39" height="34.57" fill="#FF8080"/>
<rect x="229.2" y="1128.28" width="3.39" height="34.57" fill="#FF0000"/>
<rect x="232.59" y="1128.28" width="3.39" height="34.57" fill="#FFBFBF"/>
<rect x="235.97" y="1128.28" width="3.39" height="34.57" fill="#FFFAFA"/>
<rect x="239.36" y="1128.28" width="3.39" height="34.57" fill="#FFABAB"/>
<rect x="242.74" y="1128.28" width="3.39" height="34.57" fill="#FFD9D9"/>
<rect x="246.13" y="1128.28" width="3.39" height="34.57" fill="#FF0000"/>
<rect x="249.51" y="1128.28" width="3.39" height="34.57" fill="#FF5959"/>
<rect x="87" y="1162.85" width="3.39" height="34.57" fill="#00FF00"/>
<rect x="90.39" y="1162.85" width="3.39" height="34.57" fill="#FFFAFA"/>
<rect x="93.77" y="1162.85" width="3.39" height="34.57" fill="#FFFAFA"/>
<rect x="97.16" y="1162.85" width="3.39" height="34.57" fill="#FFABAB"/>
<rect x="100.54" y="1162.85" width="3.39" height="34.57" fill="#FFABAB"/>
<rect x="103.93" y="1162.85" width="3.39" height="34.57" fill="#FFD9D9"/>
<rect x="107.31" y="1162.85" width="3.39" height="34.57" fill="#94FF94"/>
<rect x="110.7" y="1162.85" width="3.39" height="34.57" fill="#FFFAFA"/>
<rect x="114.09" y="1162.85" width="3.39" height="34.57" fill="#FFFAFA"/>
<rect x="117.47" y="1162.85" width="3.39" height="34.57" fill="#73FF73"/>
<rect x="120.86" y="1162.85" width="3.39" height="34.57" fill="#73FF73"/>
<rect x="124.24" y="1162.85" width="3.39" height="34.57" fill="#4DFF4D"/>
<rect x="127.63" y="1162.85" width="3.39" height="34.57" fill="#00FF00"/>
<rect x="131.01" y="1162.85" width="3.39" height="34.57" fill="#73FF73"/>
<rect x="134.4" y="1162.85" width="3.39" height="34.57" fill="#FFD9D9"/>
<rect x="137.79" y="1162.85" width="3.39" height="34.57" fill="#00FF00"/>
<rect x="141.17" y="1162.85" width="3.39" height="34.57" fill="#00FF00"/>
<rect x="144.56" y="1162.85" width="3.39" height="34.57" fill="#73FF73"/>
<rect x="147.94" y="1162.85" width="3.39" height="34.57" fill="#4DFF4D"/>
<rect x="151.33" y="1162.85" width="3.39" height="34.57" fill="#4DFF4D"/>
<rect x="154.71" y="1162.85" width="3.39" height="34.57" fill="#00FF00"/>
<rect x="158.1" y="1162.85" width="3.39" height="34.57" fill="#FFFAFA"/>
<rect x="161.49" y="1162.85" width="3.39" height="34.57" fill="#FFFAFA"/>
<rect x="164.87" y="1162.85" width="3.39" height="34.57" fill="#FFABAB"/>
<rect x="168.26" y="1162.85" width="3.39" height="34.57" fill="#FFABAB"/>
<rect x="171.64" y="1162.85" width="3.39" height="34.57" fill="#FFFAFA"/>
<rect x="175.03" y="1162.85" width="3.39" height="34.57" fill="#94FF94"/>
<rect x="178.41" y="1162.85" width="3.39" height="34.57" fill="#FFFAFA"/>
<rect x="181.8" y="1162.85" width="3.39" height="34.57" fill="#FFFAFA"/>
<rect x="185.19" y="1162.85" width="3.39" height="34.57" fill="#73FF73"/>
<rect x="188.57" y="1162.85" width="3.39" height="34.57" fill="#FF9494"/>
<rect x="191.96" y="1162.85" width="3.39" height="34.57" fill="#FF5959"/>
<rect x="195.34" y="1162.85" width="3.39" height="34.57" fill="#FF8080"/>
<rect x="198.73" y="1162.85" width="3.39" height="34.57" fill="#FF8080"/>
<rect x="202.11" y="1162.85" width="3.39" height="34.57" fill="#FF8080"/>
<rect x="205.5" y="1162.85" width="3.39" height="34.57" fill="#FF8080"/>
<rect x="208.89" y="1162.85" width="3.39" height="34.57" fill="#FF8080"/>
<rect x="212.27" y="1162.85" width="3.39" height="34.57" fill="#FF8080"/>
<rect x="215.66" y="1162.85" width="3.39" height="34.57" fill="#FF8080"/>
<rect x="219.04" y="1162.85" width="3.39" height="34.57" fill="#FF8080"/>
<rect x="222.43" y="1162.85" width="3.39" height="34.57" fill="#FF8080"/>
<rect x="225.81" y="1162.85" width="3.39" height="34.57" fill="#FF5959"/>
<rect x="229.2" y="1162.85" width="3.39" height="34.57" fill="#FF8080"/>
<rect x="232.59" y="1162.85" width="3.39" height="34.57" fill="#FF8080"/>
<rect x="235.97" y="1162.85" width="3.39" height="34.57" fill="#FF8080"/>
<rect x="239.36" y="1162.85" width="3.39" height="34.57" fill="#FF8080"/>
<rect x="242.74" y="1162.85" width="3.39" height="34.57" fill="#FF5959"/>
<rect x="246.13" y="1162.85" width="3.39" height="34.57" fill="#FF8080"/>
<rect x="249.51" y="1162.85" width="3.39" height="34.57" fill="#FF8080"/>
<rect x="87" y="1197.42" width="3.39" height="34.57" fill="#4DFF4D"/>
<rect x="90.39" y="1197.42" width="3.39" height="34.57" fill="#BFFFBF"/>
<rect x="93.77" y="1197.42" width="3.39" height="34.57" fill="#DEFFDE"/>
<rect x="97.16" y="1197.42" width="3.39" height="34.57" fill="#FF5959"/>
<rect x="100.54" y="1197.42" width="3.39" height="34.57" fill="#FF9494"/>
<rect x="103.93" y="1197.42" width="3.39" height="34.57" fill="#BFFFBF"/>
<rect x="107.31" y="1197.42" width="3.39" height="34.57" fill="#FF5959"/>
<rect x="110.7" y="1197.42" width="3.39" height="34.57" fill="#BFFFBF"/>
<rect x="114.09" y="1197.42" width="3.39" height="34.57" fill="#FFFAFA"/>
<rect x="117.47" y="1197.42" width="3.39" height="34.57" fill="#FFD9D9"/>
<rect x="120.86" y="1197.42" width="3.39" height="34.57" fill="#73FF73"/>
<rect x="124.24" y="1197.42" width="3.39" height="34.57" fill="#26FF26"/>
<rect x="127.63" y="1197.42" width="3.39" height="34.57" fill="#FFFAFA"/>
<rect x="131.01" y="1197.42" width="3.39" height="34.57" fill="#DEFFDE"/>
<rect x="134.4" y="1197.42" width="3.39" height="34.57" fill="#94FF94"/>
<rect x="137.79" y="1197.42" width="3.39" height="34.57" fill="#4DFF4D"/>
<rect x="141.17" y="1197.42" width="3.39" height="34.57" fill="#00FF00"/>
<rect x="144.56" y="1197.42" width="3.39" height="34.57" fill="#00FF00"/>
<rect x="147.94" y="1197.42" width="3.39" height="34.57" fill="#00FF00"/>
<rect x="151.33" y="1197.42" width="3.39" height="34.57" fill="#4DFF4D"/>
<rect x="154.71" y="1197.42" width="3.39" height="34.57" fill="#4DFF4D"/>
<rect x="158.1" y="1197.42" width="3.39" height="34.57" fill="#BFFFBF"/>
<rect x="161.49" y="1197.42" width="3.39" height="34.57" fill="#DEFFDE"/>
<rect x="164.87" y="1197.42" width="3.39" height="34.57" fill="#FF5959"/>
<rect x="168.26" y="1197.42" width="3.39" height="34.57" fill="#FF9494"/>
<rect x="171.64" y="1197.42" width="3.39" height="34.57" fill="#BFFFBF"/>
<rect x="175.03" y="1197.42" width="3.39" height="34.57" fill="#FF5959"/>
<rect x="178.41" y="1197.42" width="3.39" height="34.57" fill="#BFFFBF"/>
<rect x="181.8" y="1197.42" width="3.39" height="34.57" fill="#FFFAFA"/>
<rect x="185.19" y="1197.42" width="3.39" height="34.57" fill="#FFD9D9"/>
<rect x="188.57" y="1197.42" width="3.39" height="34.57" fill="#FF8080"/>
<rect x="191.96" y="1197.42" width="3.39" height="34.57" fill="#FF9494"/>
<rect x="195.34" y="1197.42" width="3.39" height="34.57" fill="#FF8080"/>
<rect x="198.73" y="1197.42" width="3.39" height="34.57" fill="#FF8080"/>
<rect x="202.11" y="1197.42" width="3.39" height="34.57" fill="#FFD9D9"/>
<rect x="205.5" y="1197.42" width="3.39" height="34.57" fill="#FF8080"/>
<rect x="208.89" y="1197.42" width="3.39" height="34.57" fill="#FF8080"/>
<rect x="212.27" y="1197.42" width="3.39" height="34.57" fill="#FFD9D9"/>
<rect x="215.66" y="1197.42" width="3.39" height="34.57" fill="#FFD9D9"/>
<rect x="219.04" y="1197.42" width="3.39" height="34.57" fill="#FFABAB"/>
<rect x="222.43" y="1197.42" width="3.39" height="34.57" fill="#FFD9D9"/>
<rect x="225.81" y="1197.42" width="3.39" height="34.57" fill="#DEFFDE"/>
<rect x="229.2" y="1197.42" width="3.39" height="34.57" fill="#FF9494"/>
<rect x="232.59" y="1197.42" width="3.39" height="34.57" fill="#FF9494"/>
<rect x="235.97" y="1197.42" width="3.39" height="34.57" fill="#FFABAB"/>
<rect x="239.36" y="1197.42" width="3.39" height="34.57" fill="#FF8080"/>
<rect x="242.74" y="1197.42" width="3.39" height="34.57" fill="#FF5959"/>
<rect x="246.13" y="1197.42" width="3.39" height="34.57" fill="#FF8080"/>
<rect x="249.51" y="1197.42" width="3.39" height="34.57" fill="#FF8080"/>
<rect x="87" y="1231.99" width="3.39" height="34.57" fill="#DEFFDE"/>
<rect x="90.39" y="1231.99" width="3.39" height="34.57" fill="#FF9494"/>
<rect x="93.77" y="1231.99" width="3.39" height="34.57" fill="#73FF73"/>
<rect x="97.16" y="1231.99" width="3.39" height="34.57" fill="#DEFFDE"/>
<rect x="100.54" y="1231.99" width="3.39" height="34.57" fill="#00FF00"/>
<rect x="103.93" y="1231.99" width="3.39" height="34.57" fill="#FFBFBF"/>
<rect x="107.31" y="1231.99" width="3.39" height="34.57" fill="#FF8080"/>
<rect x="110.7" y="1231.99" width="3.39" height="34.57" fill="#94FF94"/>
<rect x="114.09" y="1231.99" width="3.39" height="34.57" fill="#BFFFBF"/>
<rect x="117.47" y="1231.99" width="3.39" height="34.57" fill="#FFD9D9"/>
<rect x="120.86" y="1231.99" width="3.39" height="34.57" fill="#BFFFBF"/>
<rect x="124.24" y="1231.99" width="3.39" height="34.57" fill="#FFD9D9"/>
<rect x="127.63" y="1231.99" width="3.39" height="34.57" fill="#FF5959"/>
<rect x="131.01" y="1231.99" width="3.39" height="34.57" fill="#BFFFBF"/>
<rect x="134.4" y="1231.99" width="3.39" height="34.57" fill="#94FF94"/>
<rect x="137.79" y="1231.99" width="3.39" height="34.57" fill="#FFD9D9"/>
<rect x="141.17" y="1231.99" width="3.39" height="34.57" fill="#26FF26"/>
<rect x="144.56" y="1231.99" width="3.39" height="34.57" fill="#BFFFBF"/>
<rect x="147.94" y="1231.99" width="3.39" height="34.57" fill="#00FF00"/>
<rect x="151.33" y="1231.99" width="3.39" height="34.57" fill="#00FF00"/>
<rect x="154.71" y="1231.99" width="3.39" height="34.57" fill="#DEFFDE"/>
<rect x="158.1" y="1231.99" width="3.39" height="34.57" fill="#FF9494"/>
<rect x="161.49" y="1231.99" width="3.39" height="34.57" fill="#73FF73"/>
<rect x="164.87" y="1231.99" width="3.39" height="34.57" fill="#DEFFDE"/>
<rect x="168.26" y="1231.99" width="3.39" height="34.57" fill="#00FF00"/>
<rect x="171.64" y="1231.99" width="3.39" height="34.57" fill="#FFBFBF"/>
<rect x="175.03" y="1231.99" width="3.39" height="34.57" fill="#FF8080"/>
<rect x="178.41" y="1231.99" width="3.39" height="34.57" fill="#94FF94"/>
<rect x="181.8" y="1231.99" width="3.39" height="34.57" fill="#BFFFBF"/>
<rect x="185.19" y="1231.99" width="3.39" height="34.57" fill="#FFD9D9"/>
<rect x="188.57" y="1231.99" width="3.39" height="34.57" fill="#FF0000"/>
<rect x="191.96" y="1231.99" width="3.39" height="34.57" fill="#FF5959"/>
<rect x="195.34" y="1231.99" width="3.39" height="34.57" fill="#FF2626"/>
<rect x="198.73" y="1231.99" width="3.39" height="34.57" fill="#FF5959"/>
<rect x="202.11" y="1231.99" width="3.39" height="34.57" fill="#FF5959"/>
<rect x="205.5" y="1231.99" width="3.39" height="34.57" fill="#FF2626"/>
<rect x="208.89" y="1231.99" width="3.39" height="34.57" fill="#26FF26"/>
<rect x="212.27" y="1231.99" width="3.39" height="34.57" fill="#FF8080"/>
<rect x="215.66" y="1231.99" width="3.39" height="34.57" fill="#FF0000"/>
<rect x="219.04" y="1231.99" width="3.39" height="34.57" fill="#BFFFBF"/>
<rect x="222.43" y="1231.99" width="3.39" height="34.57" fill="#FFABAB"/>
<rect x="225.81" y="1231.99" width="3.39" height="34.57" fill="#FFABAB"/>
<rect x="229.2" y="1231.99" width="3.39" height="34.57" fill="#FFFAFA"/>
<rect x="232.59" y="1231.99" width="3.39" height="34.57" fill="#FF8080"/>
<rect x="235.97" y="1231.99" width="3.39" height="34.57" fill="#FF8080"/>
<rect x="239.36" y="1231.99" width="3.39" height="34.57" fill="#BFFFBF"/>
<rect x="242.74" y="1231.99" width="3.39" height="34.57" fill="#FFD9D9"/>
<rect x="246.13" y="1231.99" width="3.39" height="34.57" fill="#94FF94"/>
<rect x="249.51" y="1231.99" width="3.39" height="34.57" fill="#FFFAFA"/>
<rect x="87" y="1266.56" width="3.39" height="34.57" fill="#FFABAB"/>
<rect x="90.39" y="1266.56" width="3.39" height="34.57" fill="#DEFFDE"/>
<rect x="93.77" y="1266.56" width="3.39" height="34.57" fill="#FFFAFA"/>
<rect x="97.16" y="1266.56" width="3.39" height="34.57" fill="#73FF73"/>
<rect x="100.54" y="1266.56" width="3.39" height="34.57" fill="#FFD9D9"/>
<rect x="103.93" y="1266.56" width="3.39" height="34.57" fill="#FF5959"/>
<rect x="107.31" y="1266.56" width="3.39" height="34.57" fill="#BFFFBF"/>
<rect x="110.7" y="1266.56" width="3.39" height="34.57" fill="#DEFFDE"/>
<rect x="114.09" y="1266.56" width="3.39" height="34.57" fill="#FFD9D9"/>
<rect x="117.47" y="1266.56" width="3.39" height="34.57" fill="#00FF00"/>
<rect x="120.86" y="1266.56" width="3.39" height="34.57" fill="#00FF00"/>
<rect x="124.24" y="1266.56" width="3.39" height="34.57" fill="#94FF94"/>
<rect x="127.63" y="1266.56" width="3.39" height="34.57" fill="#BFFFBF"/>
<rect x="131.01" y="1266.56" width="3.39" height="34.57" fill="#94FF94"/>
<rect x="134.4" y="1266.56" width="3.39" height="34.57" fill="#BFFFBF"/>
<rect x="137.79" y="1266.56" width="3.39" height="34.57" fill="#BFFFBF"/>
<rect x="141.17" y="1266.56" width="3.39" height="34.57" fill="#BFFFBF"/>
<rect x="144.56" y="1266.56" width="3.39" height="34.57" fill="#BFFFBF"/>
<rect x="147.94" y="1266.56" width="3.39" height="34.57" fill="#BFFFBF"/>
<rect x="151.33" y="1266.56" width="3.39" height="34.57" fill="#00FF00"/>
<rect x="154.71" y="1266.56" width="3.39" height="34.57" fill="#FFABAB"/>
<rect x="158.1" y="1266.56" width="3.39" height="34.57" fill="#DEFFDE"/>
<rect x="161.49" y="1266.56" width="3.39" height="34.57" fill="#FFFAFA"/>
<rect x="164.87" y="1266.56" width="3.39" height="34.57" fill="#73FF73"/>
<rect x="168.26" y="1266.56" width="3.39" height="34.57" fill="#FFD9D9"/>
<rect x="171.64" y="1266.56" width="3.39" height="34.57" fill="#FF5959"/>
<rect x="175.03" y="1266.56" width="3.39" height="34.57" fill="#BFFFBF"/>
<rect x="178.41" y="1266.56" width="3.39" height="34.57" fill="#DEFFDE"/>
<rect x="181.8" y="1266.56" width="3.39" height="34.57" fill="#FFD9D9"/>
<rect x="185.19" y="1266.56" width="3.39" height="34.57" fill="#00FF00"/>
<rect x="188.57" y="1266.56" width="3.39" height="34.57" fill="#FF8080"/>
<rect x="191.96" y="1266.56" width="3.39" height="34.57" fill="#FFD9D9"/>
<rect x="195.34" y="1266.56" width="3.39" height="34.57" fill="#FFABAB"/>
<rect x="198.73" y="1266.56" width="3.39" height="34.57" fill="#FF8080"/>
<rect x="202.11" y="1266.56" width="3.39" height="34.57" fill="#FF5959"/>
<rect x="205.5" y="1266.56" width="3.39" height="34.57" fill="#FF8080"/>
<rect x="208.89" y="1266.56" width="3.39" height="34.57" fill="#DEFFDE"/>
<rect x="212.27" y="1266.56" width="3.39" height="34.57" fill="#FFFAFA"/>
<rect x="215.66" y="1266.56" width="3.39" height="34.57" fill="#FFABAB"/>
<rect x="219.04" y="1266.56" width="3.39" height="34.57" fill="#FF9494"/>
<rect x="222.43" y="1266.56" width="3.39" height="34.57" fill="#FF9494"/>
<rect x="225.81" y="1266.56" width="3.39" height="34.57" fill="#DEFFDE"/>
<rect x="229.2" y="1266.56" width="3.39" height="34.57" fill="#FF5959"/>
<rect x="232.59" y="1266.56" width="3.39" height="34.57" fill="#FF5959"/>
<rect x="235.97" y="1266.56" width="3.39" height="34.57" fill="#FF8080"/>
<rect x="239.36" y="1266.56" width="3.39" height="34.57" fill="#FFD9D9"/>
<rect x="242.74" y="1266.56" width="3.39" height="34.57" fill="#FFFAFA"/>
<rect x="246.13" y="1266.56" width="3.39" height="34.57" fill="#FF0000"/>
<rect x="249.51" y="1266.56" width="3.39" height="34.57" fill="#FFD9D9"/>
<rect x="87" y="1301.13" width="3.39" height="34.57" fill="#FFBFBF"/>
<rect x="90.39" y="1301.13" width="3.39" height="34.57" fill="#FFABAB"/>
<rect x="93.77" y="1301.13" width="3.39" height="34.57" fill="#FF9494"/>
<rect x="97.16" y="1301.13" width="3.39" height="34.57" fill="#FF9494"/>
<rect x="100.54" y="1301.13" width="3.39" height="34.57" fill="#FFABAB"/>
<rect x="103.93" y="1301.13" width="3.39" height="34.57" fill="#FFD9D9"/>
<rect x="107.31" y="1301.13" width="3.39" height="34.57" fill="#FF9494"/>
<rect x="110.7" y="1301.13" width="3.39" height="34.57" fill="#BFFFBF"/>
<rect x="114.09" y="1301.13" width="3.39" height="34.57" fill="#FFFAFA"/>
<rect x="117.47" y="1301.13" width="3.39" height="34.57" fill="#4DFF4D"/>
<rect x="120.86" y="1301.13" width="3.39" height="34.57" fill="#00FF00"/>
<rect x="124.24" y="1301.13" width="3.39" height="34.57" fill="#73FF73"/>
<rect x="127.63" y="1301.13" width="3.39" height="34.57" fill="#FF5959"/>
<rect x="131.01" y="1301.13" width="3.39" height="34.57" fill="#26FF26"/>
<rect x="134.4" y="1301.13" width="3.39" height="34.57" fill="#94FF94"/>
<rect x="137.79" y="1301.13" width="3.39" height="34.57" fill="#4DFF4D"/>
<rect x="141.17" y="1301.13" width="3.39" height="34.57" fill="#94FF94"/>
<rect x="144.56" y="1301.13" width="3.39" height="34.57" fill="#00FF00"/>
<rect x="147.94" y="1301.13" width="3.39" height="34.57" fill="#00FF00"/>
<rect x="151.33" y="1301.13" width="3.39" height="34.57" fill="#00FF00"/>
<rect x="154.71" y="1301.13" width="3.39" height="34.57" fill="#FFBFBF"/>
<rect x="158.1" y="1301.13" width="3.39" height="34.57" fill="#FFABAB"/>
<rect x="161.49" y="1301.13" width="3.39" height="34.57" fill="#FF9494"/>
<rect x="164.87" y="1301.13" width="3.39" height="34.57" fill="#FF9494"/>
<rect x="168.26" y="1301.13" width="3.39" height="34.57" fill="#FFABAB"/>
<rect x="171.64" y="1301.13" width="3.39" height="34.57" fill="#FFD9D9"/>
<rect x="175.03" y="1301.13" width="3.39" height="34.57" fill="#FF9494"/>
<rect x="178.41" y="1301.13" width="3.39" height="34.57" fill="#BFFFBF"/>
<rect x="181.8" y="1301.13" width="3.39" height="34.57" fill="#FFFAFA"/>
<rect x="185.19" y="1301.13" width="3.39" height="34.57" fill="#4DFF4D"/>
<rect x="188.57" y="1301.13" width="3.39" height="34.57" fill="#FF8080"/>
<rect x="191.96" y="1301.13" width="3.39" height="34.57" fill="#FF9494"/>
<rect x="195.34" y="1301.13" width="3.39" height="34.57" fill="#FF8080"/>
<rect x="198.73" y="1301.13" width="3.39" height="34.57" fill="#DEFFDE"/>
<rect x="202.11" y="1301.13" width="3.39" height="34.57" fill="#BFFFBF"/>
<rect x="205.5" y="1301.13" width="3.39" height="34.57" fill="#BFFFBF"/>
<rect x="208.89" y="1301.13" width="3.39" height="34.57" fill="#FF9494"/>
<rect x="212.27" y="1301.13" width="3.39" height="34.57" fill="#FFABAB"/>
<rect x="215.66" y="1301.13" width="3.39" height="34.57" fill="#FFABAB"/>
<rect x="219.04" y="1301.13" width="3.39" height="34.57" fill="#FF9494"/>
<rect x="222.43" y="1301.13" width="3.39" height="34.57" fill="#FFD9D9"/>
<rect x="225.81" y="1301.13" width="3.39" height="34.57" fill="#FFABAB"/>
<rect x="229.2" y="1301.13" width="3.39" height="34.57" fill="#FF8080"/>
<rect x="232.59" y="1301.13" width="3.39" height="34.57" fill="#FF8080"/>
<rect x="235.97" y="1301.13" width="3.39" height="34.57" fill="#FFD9D9"/>
<rect x="239.36" y="1301.13" width="3.39" height="34.57" fill="#FF8080"/>
<rect x="242.74" y="1301.13" width="3.39" height="34.57" fill="#FFD9D9"/>
<rect x="246.13" y="1301.13" width="3.39" height="34.57" fill="#FF5959"/>
<rect x="249.51" y="1301.13" width="3.39" height="34.57" fill="#FFABAB"/>
</g>
<text x="255.8" y="1009.99" font-size="7">FDX1</text>
<text x="255.8" y="1044.56" font-size="7">DBT</text>
<text x="255.8" y="1079.12" font-size="7">NFE2L2</text>
<text x="255.8" y="1113.69" font-size="7">GLS</text>
<text x="255.8" y="1148.27" font-size="7">PDHA1</text>
<text x="255.8" y="1182.84" font-size="7">LIAS</text>
<text x="255.8" y="1217.4" font-size="7">LIPT1</text>
<text x="255.8" y="1251.98" font-size="7">SLC31A1</text>
<text x="255.8" y="1286.55" font-size="7">DLAT</text>
<text x="255.8" y="1321.12" font-size="7">PDHB</text>
<text x="256.2" y="985.9" font-size="6" font-weight="bold" fill="#111">cuprotosiscluster</text>
<defs><linearGradient id="gsc" x1="0" y1="0" x2="0" y2="1"><stop offset="0" stop-color="#FF0000"/><stop offset="0.245" stop-color="#FF0000"/><stop offset="0.5" stop-color="#FFFFFF"/><stop offset="0.755" stop-color="#00FF00"/><stop offset="1" stop-color="#00FF00"/></linearGradient></defs>
<rect x="308.8" y="979.7" width="10.2" height="152.8" fill="url(#gsc)"/>
<text x="322.6" y="996.2" font-size="6.6" fill="#222">3</text>
<text x="322.6" y="1016.93" font-size="6.6" fill="#222">2</text>
<text x="322.6" y="1037.66" font-size="6.6" fill="#222">1</text>
<text x="322.6" y="1058.39" font-size="6.6" fill="#222">0</text>
<text x="322.6" y="1079.12" font-size="6.6" fill="#222">−1</text>
<text x="322.6" y="1099.85" font-size="6.6" fill="#222">−2</text>
<text x="322.6" y="1120.58" font-size="6.6" fill="#222">−3</text>
<text x="330.5" y="984.2" font-size="6" font-weight="bold" fill="#111">cuprotosiscluster</text>
<rect x="330.5" y="986.4" width="8.4" height="8.7" fill="#00FF00" stroke="#999999" stroke-width="0.55"/>
<rect x="330.5" y="995.1" width="8.4" height="8.7" fill="#FF0000" stroke="#999999" stroke-width="0.55"/>
<text x="340.9" y="993.2" font-size="6.6" fill="#222">A</text>
<text x="340.9" y="1001.9" font-size="6.6" fill="#222">B</text>
<polyline points="87,1076.42 74.1,1076.42 74.1,1110.99 87,1110.99" fill="none" stroke="#222" stroke-width="0.9"/>
<polyline points="87,1041.86 72.2,1041.86 72.2,1093.71 74.1,1093.71" fill="none" stroke="#222" stroke-width="0.9"/>
<polyline points="87,1007.28 51.5,1007.28 51.5,1067.78 72.2,1067.78" fill="none" stroke="#222" stroke-width="0.9"/>
<polyline points="87,1180.13 65.8,1180.13 65.8,1214.7 87,1214.7" fill="none" stroke="#222" stroke-width="0.9"/>
<polyline points="87,1145.57 63.3,1145.57 63.3,1197.42 65.8,1197.42" fill="none" stroke="#222" stroke-width="0.9"/>
<polyline points="87,1283.85 63.3,1283.85 63.3,1318.41 87,1318.41" fill="none" stroke="#222" stroke-width="0.9"/>
<polyline points="87,1249.28 54.7,1249.28 54.7,1301.13 63.3,1301.13" fill="none" stroke="#222" stroke-width="0.9"/>
<polyline points="63.3,1171.49 50.1,1171.49 50.1,1275.2 54.7,1275.2" fill="none" stroke="#222" stroke-width="0.9"/>
<polyline points="51.5,1037.53 33.4,1037.53 33.4,1223.35 50.1,1223.35" fill="none" stroke="#222" stroke-width="0.9"/>
<polyline points="30.9,1032.4 25.9,1032.4 25.9,1218.3 30.9,1218.3" fill="none" stroke="#222" stroke-width="0.9"/>
</g>
<g id="panel-H">
<text transform="translate(427 967.3) scale(1 1.04)" font-size="29" font-weight="bold" fill="#000">H</text>
<text x="611" y="1001" font-size="13.15" fill="#000">cuprotosiscluster</text>
<line x1="725.6" y1="987.7" x2="725.6" y2="1003.5" stroke="#00FF00" stroke-width="1.15"/>
<rect x="718.8" y="991.2" width="13.6" height="9" fill="#fff" stroke="#00FF00" stroke-width="1.15"/>
<line x1="718.2" y1="995.7" x2="733" y2="995.7" stroke="#00FF00" stroke-width="1.15"/>
<text x="741.6" y="999.6" font-size="10.6" fill="#000">A</text>
<line x1="764.7" y1="987.7" x2="764.7" y2="1003.5" stroke="#FF0000" stroke-width="1.15"/>
<rect x="757.9" y="991.2" width="13.6" height="9" fill="#fff" stroke="#FF0000" stroke-width="1.15"/>
<line x1="757.3" y1="995.7" x2="772.1" y2="995.7" stroke="#FF0000" stroke-width="1.15"/>
<text x="780.6" y="999.6" font-size="10.6" fill="#000">B</text>
<line x1="500.7" y1="1036.7" x2="500.7" y2="1044" stroke="#00FF00" stroke-width="1.3"/>
<line x1="500.7" y1="1054.5" x2="500.7" y2="1063.7" stroke="#00FF00" stroke-width="1.3"/>
<rect x="490.45" y="1044" width="20.5" height="10.5" fill="#fff" stroke="#00FF00" stroke-width="1.25"/>
<line x1="489.85" y1="1049.9" x2="511.55" y2="1049.9" stroke="#00FF00" stroke-width="2.2"/>
<line x1="517.5" y1="1130.6" x2="517.5" y2="1136.7" stroke="#FF0000" stroke-width="1.3"/>
<line x1="517.5" y1="1142.3" x2="517.5" y2="1144.3" stroke="#FF0000" stroke-width="1.3"/>
<rect x="507.25" y="1136.7" width="20.5" height="5.6" fill="#fff" stroke="#FF0000" stroke-width="1.25"/>
<line x1="506.65" y1="1138.7" x2="528.35" y2="1138.7" stroke="#FF0000" stroke-width="2.2"/>
<text x="509.1" y="1035.6" font-size="11.6" text-anchor="middle" font-weight="bold" fill="#222" letter-spacing="0.15">***</text>
<line x1="542.95" y1="1119.3" x2="542.95" y2="1128.6" stroke="#00FF00" stroke-width="1.3"/>
<line x1="542.95" y1="1141.5" x2="542.95" y2="1157.9" stroke="#00FF00" stroke-width="1.3"/>
<rect x="532.7" y="1128.6" width="20.5" height="12.9" fill="#fff" stroke="#00FF00" stroke-width="1.25"/>
<line x1="532.1" y1="1134.8" x2="553.8" y2="1134.8" stroke="#00FF00" stroke-width="2.2"/>
<circle cx="542.95" cy="1164.1" r="2.5" fill="#00FF00"/>
<line x1="559.75" y1="1108.9" x2="559.75" y2="1113.9" stroke="#FF0000" stroke-width="1.3"/>
<line x1="559.75" y1="1132.8" x2="559.75" y2="1154" stroke="#FF0000" stroke-width="1.3"/>
<rect x="549.5" y="1113.9" width="20.5" height="18.9" fill="#fff" stroke="#FF0000" stroke-width="1.25"/>
<line x1="548.9" y1="1122.3" x2="570.6" y2="1122.3" stroke="#FF0000" stroke-width="2.2"/>
<text x="551.35" y="1035.6" font-size="11.6" text-anchor="middle" font-weight="bold" fill="#222" letter-spacing="0.15">**</text>
<line x1="585.2" y1="1073.1" x2="585.2" y2="1086.3" stroke="#00FF00" stroke-width="1.3"/>
<line x1="585.2" y1="1101" x2="585.2" y2="1107.2" stroke="#00FF00" stroke-width="1.3"/>
<rect x="574.95" y="1086.3" width="20.5" height="14.7" fill="#fff" stroke="#00FF00" stroke-width="1.25"/>
<line x1="574.35" y1="1090" x2="596.05" y2="1090" stroke="#00FF00" stroke-width="2.2"/>
<circle cx="585.2" cy="1124.1" r="2.5" fill="#00FF00"/>
<line x1="602" y1="1080.5" x2="602" y2="1096.5" stroke="#FF0000" stroke-width="1.3"/>
<line x1="602" y1="1108.4" x2="602" y2="1115.9" stroke="#FF0000" stroke-width="1.3"/>
<rect x="591.75" y="1096.5" width="20.5" height="11.9" fill="#fff" stroke="#FF0000" stroke-width="1.25"/>
<line x1="591.15" y1="1102.2" x2="612.85" y2="1102.2" stroke="#FF0000" stroke-width="2.2"/>
<circle cx="602" cy="1078.3" r="2.5" fill="#FF0000"/>
<text x="593.6" y="1035.6" font-size="11.6" text-anchor="middle" font-weight="bold" fill="#222" letter-spacing="0.15">**</text>
<line x1="627.45" y1="1145.6" x2="627.45" y2="1163.6" stroke="#00FF00" stroke-width="1.3"/>
<line x1="627.45" y1="1228.7" x2="627.45" y2="1272.8" stroke="#00FF00" stroke-width="1.3"/>
<rect x="617.2" y="1163.6" width="20.5" height="65.1" fill="#fff" stroke="#00FF00" stroke-width="1.25"/>
<line x1="616.6" y1="1186.7" x2="638.3" y2="1186.7" stroke="#00FF00" stroke-width="2.2"/>
<line x1="644.25" y1="1113.1" x2="644.25" y2="1120.1" stroke="#FF0000" stroke-width="1.3"/>
<line x1="644.25" y1="1127.6" x2="644.25" y2="1138.2" stroke="#FF0000" stroke-width="1.3"/>
<rect x="634" y="1120.1" width="20.5" height="7.5" fill="#fff" stroke="#FF0000" stroke-width="1.25"/>
<line x1="633.4" y1="1122.6" x2="655.1" y2="1122.6" stroke="#FF0000" stroke-width="2.2"/>
<text x="635.85" y="1035.6" font-size="11.6" text-anchor="middle" font-weight="bold" fill="#222" letter-spacing="0.15">***</text>
<line x1="669.7" y1="1084.1" x2="669.7" y2="1100" stroke="#00FF00" stroke-width="1.3"/>
<line x1="669.7" y1="1117.3" x2="669.7" y2="1133.5" stroke="#00FF00" stroke-width="1.3"/>
<rect x="659.45" y="1100" width="20.5" height="17.3" fill="#fff" stroke="#00FF00" stroke-width="1.25"/>
<line x1="658.85" y1="1106.4" x2="680.55" y2="1106.4" stroke="#00FF00" stroke-width="2.2"/>
<circle cx="669.7" cy="1148.7" r="2.5" fill="#00FF00"/>
<line x1="686.5" y1="1085.2" x2="686.5" y2="1089.2" stroke="#FF0000" stroke-width="1.3"/>
<line x1="686.5" y1="1096.7" x2="686.5" y2="1103.9" stroke="#FF0000" stroke-width="1.3"/>
<rect x="676.25" y="1089.2" width="20.5" height="7.5" fill="#fff" stroke="#FF0000" stroke-width="1.25"/>
<line x1="675.65" y1="1092.5" x2="697.35" y2="1092.5" stroke="#FF0000" stroke-width="2.2"/>
<text x="678.1" y="1035.6" font-size="11.6" text-anchor="middle" font-weight="bold" fill="#222" letter-spacing="0.15">***</text>
<line x1="711.95" y1="1123.1" x2="711.95" y2="1130.1" stroke="#00FF00" stroke-width="1.3"/>
<line x1="711.95" y1="1137" x2="711.95" y2="1145.7" stroke="#00FF00" stroke-width="1.3"/>
<rect x="701.7" y="1130.1" width="20.5" height="6.9" fill="#fff" stroke="#00FF00" stroke-width="1.25"/>
<line x1="701.1" y1="1134" x2="722.8" y2="1134" stroke="#00FF00" stroke-width="2.2"/>
<circle cx="711.95" cy="1156.9" r="2.5" fill="#00FF00"/>
<circle cx="711.95" cy="1163.2" r="2.5" fill="#00FF00"/>
<line x1="728.75" y1="1116.1" x2="728.75" y2="1123.4" stroke="#FF0000" stroke-width="1.3"/>
<line x1="728.75" y1="1130.6" x2="728.75" y2="1132.8" stroke="#FF0000" stroke-width="1.3"/>
<rect x="718.5" y="1123.4" width="20.5" height="7.2" fill="#fff" stroke="#FF0000" stroke-width="1.25"/>
<line x1="717.9" y1="1125.3" x2="739.6" y2="1125.3" stroke="#FF0000" stroke-width="2.2"/>
<text x="720.35" y="1035.6" font-size="11.6" text-anchor="middle" font-weight="bold" fill="#222" letter-spacing="0.15">***</text>
<line x1="754.2" y1="1081.3" x2="754.2" y2="1086.7" stroke="#00FF00" stroke-width="1.3"/>
<line x1="754.2" y1="1098.5" x2="754.2" y2="1105.9" stroke="#00FF00" stroke-width="1.3"/>
<rect x="743.95" y="1086.7" width="20.5" height="11.8" fill="#fff" stroke="#00FF00" stroke-width="1.25"/>
<line x1="743.35" y1="1090.8" x2="765.05" y2="1090.8" stroke="#00FF00" stroke-width="2.2"/>
<line x1="771" y1="1081.3" x2="771" y2="1082.3" stroke="#FF0000" stroke-width="1.3"/>
<line x1="771" y1="1086.7" x2="771" y2="1088.8" stroke="#FF0000" stroke-width="1.3"/>
<rect x="760.75" y="1082.3" width="20.5" height="4.4" fill="#fff" stroke="#FF0000" stroke-width="1.25"/>
<line x1="760.15" y1="1085" x2="781.85" y2="1085" stroke="#FF0000" stroke-width="2.2"/>
<circle cx="771" cy="1073.3" r="2.5" fill="#FF0000"/>
<circle cx="771" cy="1075.5" r="2.5" fill="#FF0000"/>
<text x="762.6" y="1035.6" font-size="11.6" text-anchor="middle" font-weight="bold" fill="#222" letter-spacing="0.15">***</text>
<line x1="796.45" y1="1050.9" x2="796.45" y2="1056.7" stroke="#00FF00" stroke-width="1.3"/>
<line x1="796.45" y1="1071.3" x2="796.45" y2="1086.3" stroke="#00FF00" stroke-width="1.3"/>
<rect x="786.2" y="1056.7" width="20.5" height="14.6" fill="#fff" stroke="#00FF00" stroke-width="1.25"/>
<line x1="785.6" y1="1060.7" x2="807.3" y2="1060.7" stroke="#00FF00" stroke-width="2.2"/>
<circle cx="796.45" cy="1094" r="2.5" fill="#00FF00"/>
<line x1="813.25" y1="1052" x2="813.25" y2="1054.4" stroke="#FF0000" stroke-width="1.3"/>
<line x1="813.25" y1="1059.4" x2="813.25" y2="1065.1" stroke="#FF0000" stroke-width="1.3"/>
<rect x="803" y="1054.4" width="20.5" height="5" fill="#fff" stroke="#FF0000" stroke-width="1.25"/>
<line x1="802.4" y1="1055.7" x2="824.1" y2="1055.7" stroke="#FF0000" stroke-width="2.2"/>
<circle cx="813.25" cy="1067.3" r="2.5" fill="#FF0000"/>
<text x="804.85" y="1035.6" font-size="11.6" text-anchor="middle" font-weight="bold" fill="#222" letter-spacing="0.15">**</text>
<line x1="838.7" y1="1104.4" x2="838.7" y2="1116.4" stroke="#00FF00" stroke-width="1.3"/>
<line x1="838.7" y1="1128.5" x2="838.7" y2="1144.8" stroke="#00FF00" stroke-width="1.3"/>
<rect x="828.45" y="1116.4" width="20.5" height="12.1" fill="#fff" stroke="#00FF00" stroke-width="1.25"/>
<line x1="827.85" y1="1121.9" x2="849.55" y2="1121.9" stroke="#00FF00" stroke-width="2.2"/>
<line x1="855.5" y1="1152.4" x2="855.5" y2="1154.5" stroke="#FF0000" stroke-width="1.3"/>
<line x1="855.5" y1="1158.6" x2="855.5" y2="1159" stroke="#FF0000" stroke-width="1.3"/>
<rect x="845.25" y="1154.5" width="20.5" height="4.1" fill="#fff" stroke="#FF0000" stroke-width="1.25"/>
<line x1="844.65" y1="1156.6" x2="866.35" y2="1156.6" stroke="#FF0000" stroke-width="2.2"/>
<circle cx="855.5" cy="1163.6" r="2.5" fill="#FF0000"/>
<text x="847.1" y="1035.6" font-size="11.6" text-anchor="middle" font-weight="bold" fill="#222" letter-spacing="0.15">***</text>
<line x1="880.95" y1="1089.3" x2="880.95" y2="1106.6" stroke="#00FF00" stroke-width="1.3"/>
<line x1="880.95" y1="1119.4" x2="880.95" y2="1131.1" stroke="#00FF00" stroke-width="1.3"/>
<rect x="870.7" y="1106.6" width="20.5" height="12.8" fill="#fff" stroke="#00FF00" stroke-width="1.25"/>
<line x1="870.1" y1="1110.9" x2="891.8" y2="1110.9" stroke="#00FF00" stroke-width="2.2"/>
<circle cx="880.95" cy="1067.4" r="2.5" fill="#00FF00"/>
<circle cx="880.95" cy="1081.5" r="2.5" fill="#00FF00"/>
<line x1="897.75" y1="1147" x2="897.75" y2="1149.4" stroke="#FF0000" stroke-width="1.3"/>
<line x1="897.75" y1="1155.7" x2="897.75" y2="1159.6" stroke="#FF0000" stroke-width="1.3"/>
<rect x="887.5" y="1149.4" width="20.5" height="6.3" fill="#fff" stroke="#FF0000" stroke-width="1.25"/>
<line x1="886.9" y1="1152.4" x2="908.6" y2="1152.4" stroke="#FF0000" stroke-width="2.2"/>
<text x="889.35" y="1035.6" font-size="11.6" text-anchor="middle" font-weight="bold" fill="#222" letter-spacing="0.15">***</text>
<line x1="484" y1="1025.3" x2="484" y2="1284.6" stroke="#000" stroke-width="1.15"/>
<line x1="483.5" y1="1284" x2="915" y2="1284" stroke="#000" stroke-width="1.3"/>
<line x1="480" y1="1078" x2="484" y2="1078" stroke="#000" stroke-width="1.1"/>
<text x="477.6" y="1082.4" font-size="12.2" text-anchor="end" fill="#000">8</text>
<line x1="480" y1="1144.2" x2="484" y2="1144.2" stroke="#000" stroke-width="1.1"/>
<text x="477.6" y="1148.6" font-size="12.2" text-anchor="end" fill="#000">6</text>
<line x1="480" y1="1210.5" x2="484" y2="1210.5" stroke="#000" stroke-width="1.1"/>
<text x="477.6" y="1214.9" font-size="12.2" text-anchor="end" fill="#000">4</text>
<line x1="480" y1="1277.1" x2="484" y2="1277.1" stroke="#000" stroke-width="1.1"/>
<text x="477.6" y="1281.5" font-size="12.2" text-anchor="end" fill="#000">2</text>
<line x1="509.1" y1="1284" x2="509.1" y2="1288.3" stroke="#000" stroke-width="1.1"/>
<text x="516.7" y="1294.6" font-size="13.1" text-anchor="end" fill="#000" transform="rotate(-60 516.7 1294.6)">NFE2L2</text>
<line x1="551.35" y1="1284" x2="551.35" y2="1288.3" stroke="#000" stroke-width="1.1"/>
<text x="558.95" y="1294.6" font-size="13.1" text-anchor="end" fill="#000" transform="rotate(-60 558.95 1294.6)">SLC31A1</text>
<line x1="593.6" y1="1284" x2="593.6" y2="1288.3" stroke="#000" stroke-width="1.1"/>
<text x="601.2" y="1294.6" font-size="13.1" text-anchor="end" fill="#000" transform="rotate(-60 601.2 1294.6)">FDX1</text>
<line x1="635.85" y1="1284" x2="635.85" y2="1288.3" stroke="#000" stroke-width="1.1"/>
<text x="643.45" y="1294.6" font-size="13.1" text-anchor="end" fill="#000" transform="rotate(-60 643.45 1294.6)">LIAS</text>
<line x1="678.1" y1="1284" x2="678.1" y2="1288.3" stroke="#000" stroke-width="1.1"/>
<text x="685.7" y="1294.6" font-size="13.1" text-anchor="end" fill="#000" transform="rotate(-60 685.7 1294.6)">LIPT1</text>
<line x1="720.35" y1="1284" x2="720.35" y2="1288.3" stroke="#000" stroke-width="1.1"/>
<text x="727.95" y="1294.6" font-size="13.1" text-anchor="end" fill="#000" transform="rotate(-60 727.95 1294.6)">DLAT</text>
<line x1="762.6" y1="1284" x2="762.6" y2="1288.3" stroke="#000" stroke-width="1.1"/>
<text x="770.2" y="1294.6" font-size="13.1" text-anchor="end" fill="#000" transform="rotate(-60 770.2 1294.6)">PDHA1</text>
<line x1="804.85" y1="1284" x2="804.85" y2="1288.3" stroke="#000" stroke-width="1.1"/>
<text x="812.45" y="1294.6" font-size="13.1" text-anchor="end" fill="#000" transform="rotate(-60 812.45 1294.6)">PDHB</text>
<line x1="847.1" y1="1284" x2="847.1" y2="1288.3" stroke="#000" stroke-width="1.1"/>
<text x="854.7" y="1294.6" font-size="13.1" text-anchor="end" fill="#000" transform="rotate(-60 854.7 1294.6)">GLS</text>
<line x1="889.35" y1="1284" x2="889.35" y2="1288.3" stroke="#000" stroke-width="1.1"/>
<text x="896.95" y="1294.6" font-size="13.1" text-anchor="end" fill="#000" transform="rotate(-60 896.95 1294.6)">DBT</text>
<text x="464.2" y="1154.3" font-size="13" text-anchor="middle" fill="#000" transform="rotate(-90 464.2 1154.3)">Gene expression</text>
<rect x="447.7" y="1115.5" width="0.9" height="0.9" fill="#333"/>
<rect x="446.6" y="1191.8" width="0.9" height="2.6" fill="#333"/>
</g>
<g id="panel-I">
<text transform="translate(1061.6 967.3) scale(1 1.04)" font-size="29" font-weight="bold" fill="#000">I</text>
<path d="M1278.35 1264.97 A104.7 21 62.5 0 1 1181.65 1079.23" fill="none" stroke="#00FF00" stroke-width="2.2" stroke-dasharray="9.4 9.5" stroke-dashoffset="0"/>
<path d="M1181.65 1079.23 A104.7 21 62.5 0 1 1278.35 1264.97" fill="none" stroke="#00FF00" stroke-width="2.2" stroke-dasharray="9.4 9.5" stroke-dashoffset="9.3"/>
<path d="M1423.06 1130.98 A19 6.2 79.5 0 1 1416.14 1093.62" fill="none" stroke="#FF0000" stroke-width="2.2" stroke-dasharray="9.4 9.5" stroke-dashoffset="12.4"/>
<path d="M1416.14 1093.62 A19 6.2 79.5 0 1 1423.06 1130.98" fill="none" stroke="#FF0000" stroke-width="2.2" stroke-dasharray="9.4 9.5" stroke-dashoffset="12.4"/>
<circle cx="1143.5" cy="1009.6" r="2.5" fill="#00FF00"/>
<circle cx="1174.1" cy="1004.2" r="2.5" fill="#00FF00"/>
<circle cx="1162" cy="1020.9" r="2.5" fill="#00FF00"/>
<circle cx="1150.3" cy="1039.3" r="2.5" fill="#00FF00"/>
<circle cx="1180.3" cy="1095.9" r="2.5" fill="#00FF00"/>
<circle cx="1180.4" cy="1110.9" r="2.5" fill="#00FF00"/>
<circle cx="1199.5" cy="1122.3" r="2.5" fill="#00FF00"/>
<circle cx="1178.3" cy="1127.5" r="2.5" fill="#00FF00"/>
<circle cx="1155.2" cy="1136.2" r="2.5" fill="#00FF00"/>
<circle cx="1202.2" cy="1142.3" r="2.5" fill="#00FF00"/>
<circle cx="1206" cy="1140.7" r="2.5" fill="#00FF00"/>
<circle cx="1238.5" cy="1143.7" r="2.5" fill="#00FF00"/>
<circle cx="1291.5" cy="1200.3" r="2.5" fill="#00FF00"/>
<circle cx="1289.1" cy="1216.3" r="2.5" fill="#00FF00"/>
<circle cx="1267.2" cy="1232.9" r="2.5" fill="#00FF00"/>
<circle cx="1257" cy="1246.9" r="2.5" fill="#00FF00"/>
<circle cx="1252.8" cy="1265" r="2.5" fill="#00FF00"/>
<circle cx="1259.7" cy="1268.2" r="2.5" fill="#00FF00"/>
<circle cx="1288.8" cy="1296.6" r="2.5" fill="#00FF00"/>
<circle cx="1413.4" cy="1075.8" r="2.5" fill="#FF0000"/>
<circle cx="1415.1" cy="1087.9" r="2.5" fill="#FF0000"/>
<circle cx="1421.2" cy="1088.5" r="2.5" fill="#FF0000"/>
<circle cx="1418.6" cy="1095.3" r="2.5" fill="#FF0000"/>
<circle cx="1399.9" cy="1098.3" r="2.5" fill="#FF0000"/>
<circle cx="1414.9" cy="1098.6" r="2.5" fill="#FF0000"/>
<circle cx="1413.1" cy="1108.3" r="2.5" fill="#FF0000"/>
<circle cx="1426.1" cy="1108.4" r="2.5" fill="#FF0000"/>
<circle cx="1415.3" cy="1112.6" r="2.5" fill="#FF0000"/>
<circle cx="1427.3" cy="1126.3" r="2.5" fill="#FF0000"/>
<circle cx="1418.3" cy="1131" r="2.5" fill="#FF0000"/>
<circle cx="1417.5" cy="1133.2" r="2.5" fill="#FF0000"/>
<circle cx="1422.3" cy="1134.3" r="2.5" fill="#FF0000"/>
<circle cx="1426.7" cy="1132.2" r="2.5" fill="#FF0000"/>
<circle cx="1430.9" cy="1134.1" r="2.5" fill="#FF0000"/>
<circle cx="1426.3" cy="1139.3" r="2.5" fill="#FF0000"/>
<circle cx="1419.4" cy="1144" r="2.5" fill="#FF0000"/>
<circle cx="1422" cy="1143.6" r="2.5" fill="#FF0000"/>
<circle cx="1423.8" cy="1135.8" r="2.5" fill="#FF0000"/>
<text transform="translate(1230.3 1180.2) scale(1 1.05)" font-size="21.5" text-anchor="middle" fill="#000">A</text>
<text transform="translate(1419.8 1124) scale(1 1.05)" font-size="21.5" text-anchor="middle" fill="#000">B</text>
<rect x="1129.6" y="989.7" width="315.1" height="321.6" fill="none" stroke="#333" stroke-width="0.9"/>
<line x1="1126.6" y1="1042.4" x2="1129.6" y2="1042.4" stroke="#333" stroke-width="0.9"/>
<text x="1124" y="1045.9" font-size="10.3" text-anchor="end" fill="#4D4D4D">1.0</text>
<line x1="1126.6" y1="1096.45" x2="1129.6" y2="1096.45" stroke="#333" stroke-width="0.9"/>
<text x="1124" y="1099.95" font-size="10.3" text-anchor="end" fill="#4D4D4D">0.5</text>
<line x1="1126.6" y1="1150.5" x2="1129.6" y2="1150.5" stroke="#333" stroke-width="0.9"/>
<text x="1124" y="1154" font-size="10.3" text-anchor="end" fill="#4D4D4D">0.0</text>
<line x1="1126.6" y1="1204.55" x2="1129.6" y2="1204.55" stroke="#333" stroke-width="0.9"/>
<text x="1124" y="1208.05" font-size="10.3" text-anchor="end" fill="#4D4D4D">−0.5</text>
<line x1="1126.6" y1="1258.6" x2="1129.6" y2="1258.6" stroke="#333" stroke-width="0.9"/>
<text x="1124" y="1262.1" font-size="10.3" text-anchor="end" fill="#4D4D4D">−1.0</text>
<line x1="1156.4" y1="1311.3" x2="1156.4" y2="1314.3" stroke="#333" stroke-width="0.9"/>
<text x="1156.4" y="1324.5" font-size="10.3" text-anchor="middle" fill="#4D4D4D">−3</text>
<line x1="1205.5" y1="1311.3" x2="1205.5" y2="1314.3" stroke="#333" stroke-width="0.9"/>
<text x="1205.5" y="1324.5" font-size="10.3" text-anchor="middle" fill="#4D4D4D">−2</text>
<line x1="1254.6" y1="1311.3" x2="1254.6" y2="1314.3" stroke="#333" stroke-width="0.9"/>
<text x="1254.6" y="1324.5" font-size="10.3" text-anchor="middle" fill="#4D4D4D">−1</text>
<line x1="1303.7" y1="1311.3" x2="1303.7" y2="1314.3" stroke="#333" stroke-width="0.9"/>
<text x="1303.7" y="1324.5" font-size="10.3" text-anchor="middle" fill="#4D4D4D">0</text>
<line x1="1352.8" y1="1311.3" x2="1352.8" y2="1314.3" stroke="#333" stroke-width="0.9"/>
<text x="1352.8" y="1324.5" font-size="10.3" text-anchor="middle" fill="#4D4D4D">1</text>
<line x1="1401.9" y1="1311.3" x2="1401.9" y2="1314.3" stroke="#333" stroke-width="0.9"/>
<text x="1401.9" y="1324.5" font-size="10.3" text-anchor="middle" fill="#4D4D4D">2</text>
<text x="1287.1" y="1338.5" font-size="12.2" text-anchor="middle" fill="#000">PC1</text>
<text x="1098" y="1150.3" font-size="12.2" text-anchor="middle" fill="#000" transform="rotate(-90 1098 1150.3)">PC2</text>
<text x="1463.2" y="1132.9" font-size="12.3" fill="#000">cuprotosiscluster</text>
<line x1="1465.2" y1="1149.9" x2="1473" y2="1149.9" stroke="#00FF00" stroke-width="1.9"/>
<circle cx="1472.7" cy="1149.9" r="2.5" fill="#00FF00"/>
<text x="1488.4" y="1153.5" font-size="10.3" fill="#222">A</text>
<line x1="1465.2" y1="1169" x2="1473" y2="1169" stroke="#FF0000" stroke-width="1.9"/>
<circle cx="1472.7" cy="1169" r="2.5" fill="#FF0000"/>
<text x="1488.4" y="1172.6" font-size="10.3" fill="#222">B</text>
</g>
</svg>
</body>
</html>
